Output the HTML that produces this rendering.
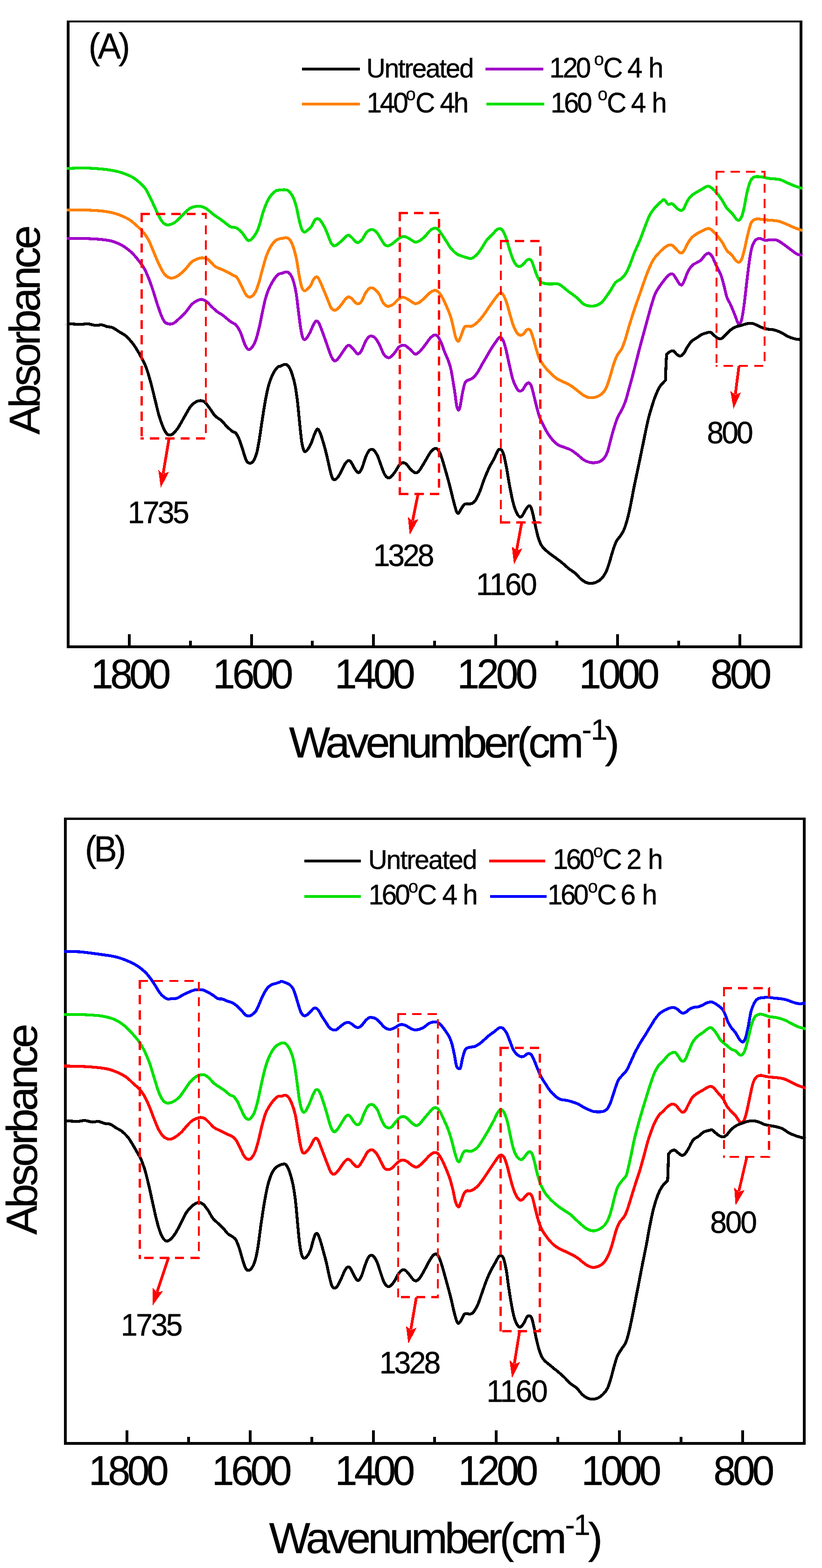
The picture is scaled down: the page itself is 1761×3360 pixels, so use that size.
<!DOCTYPE html>
<html lang="en"><head><meta charset="utf-8"><title>FTIR spectra</title>
<style>
html,body{margin:0;padding:0;background:#fff;}
body{width:1761px;height:3360px;overflow:hidden;}
svg{display:block;}
text{font-family:"Liberation Sans",sans-serif;fill:#000;stroke:#000;stroke-width:0.5px;}
</style></head><body>
<svg width="1761" height="3360" viewBox="0 0 1761 3360">
<rect width="1761" height="3360" fill="#fff"/>
<g shape-rendering="crispEdges">
<rect x="143" y="44" width="6" height="1345" fill="#000"/>
<rect x="1713" y="44" width="6" height="1345" fill="#000"/>
<rect x="143" y="44" width="1576" height="4" fill="#000"/>
<rect x="143" y="1383" width="1576" height="6" fill="#000"/>
<rect x="274" y="1359" width="6" height="24" fill="#000"/>
<rect x="405" y="1373" width="6" height="10" fill="#000"/>
<rect x="536" y="1359" width="6" height="24" fill="#000"/>
<rect x="666" y="1373" width="6" height="10" fill="#000"/>
<rect x="797" y="1359" width="6" height="24" fill="#000"/>
<rect x="928" y="1373" width="6" height="10" fill="#000"/>
<rect x="1059" y="1359" width="6" height="24" fill="#000"/>
<rect x="1190" y="1373" width="6" height="10" fill="#000"/>
<rect x="1320" y="1359" width="6" height="24" fill="#000"/>
<rect x="1451" y="1373" width="6" height="10" fill="#000"/>
<rect x="1582" y="1359" width="6" height="24" fill="#000"/>
</g>
<g shape-rendering="crispEdges">
<rect x="137" y="1752" width="6" height="1344" fill="#000"/>
<rect x="1720" y="1752" width="6" height="1344" fill="#000"/>
<rect x="137" y="1752" width="1589" height="5" fill="#000"/>
<rect x="137" y="3090" width="1589" height="6" fill="#000"/>
<rect x="269" y="3065" width="6" height="25" fill="#000"/>
<rect x="401" y="3079" width="6" height="11" fill="#000"/>
<rect x="533" y="3065" width="6" height="25" fill="#000"/>
<rect x="665" y="3079" width="6" height="11" fill="#000"/>
<rect x="797" y="3065" width="6" height="25" fill="#000"/>
<rect x="928" y="3079" width="6" height="11" fill="#000"/>
<rect x="1060" y="3065" width="6" height="25" fill="#000"/>
<rect x="1192" y="3079" width="6" height="11" fill="#000"/>
<rect x="1324" y="3065" width="6" height="25" fill="#000"/>
<rect x="1456" y="3079" width="6" height="11" fill="#000"/>
<rect x="1588" y="3065" width="6" height="25" fill="#000"/>
</g>
<text transform="translate(0,126.0) scale(1,1.04)" x="189.7" y="0" font-size="74.2" letter-spacing="-4.90">(A)</text>
<text transform="translate(0,1846.4) scale(1,1.04)" x="182.1" y="0" font-size="74.2" letter-spacing="-5.45">(B)</text>
<text transform="translate(0,1475.2) scale(1,1.04)" x="195.0" y="0" font-size="85.6" letter-spacing="-6.45">1800</text>
<text transform="translate(0,1475.2) scale(1,1.04)" x="456.1" y="0" font-size="85.6" letter-spacing="-6.05">1600</text>
<text transform="translate(0,1475.2) scale(1,1.04)" x="717.1" y="0" font-size="85.6" letter-spacing="-5.99">1400</text>
<text transform="translate(0,1475.2) scale(1,1.04)" x="979.6" y="0" font-size="85.6" letter-spacing="-5.99">1200</text>
<text transform="translate(0,1475.2) scale(1,1.04)" x="1240.6" y="0" font-size="85.6" letter-spacing="-5.99">1000</text>
<text transform="translate(0,1475.2) scale(1,1.04)" x="1522.3" y="0" font-size="85.6" letter-spacing="-6.01">800</text>
<text transform="translate(0,3182.2) scale(1,1.04)" x="190.1" y="0" font-size="85.6" letter-spacing="-6.32">1800</text>
<text transform="translate(0,3182.2) scale(1,1.04)" x="453.9" y="0" font-size="85.6" letter-spacing="-6.32">1600</text>
<text transform="translate(0,3182.2) scale(1,1.04)" x="717.7" y="0" font-size="85.6" letter-spacing="-6.32">1400</text>
<text transform="translate(0,3182.2) scale(1,1.04)" x="981.6" y="0" font-size="85.6" letter-spacing="-6.32">1200</text>
<text transform="translate(0,3182.2) scale(1,1.04)" x="1245.4" y="0" font-size="85.6" letter-spacing="-6.32">1000</text>
<text transform="translate(0,3182.2) scale(1,1.04)" x="1528.4" y="0" font-size="85.6" letter-spacing="-6.01">800</text>
<text transform="translate(0,1121.2) scale(1,1.04)" x="273.8" y="0" font-size="64.3" letter-spacing="-3.72">1735</text>
<text transform="translate(0,1213.0) scale(1,1.04)" x="799.7" y="0" font-size="64.3" letter-spacing="-4.09">1328</text>
<text transform="translate(0,1274.8) scale(1,1.04)" x="1020.0" y="0" font-size="64.3" letter-spacing="-2.53">1160</text>
<text transform="translate(0,949.7) scale(1,1.04)" x="1514.6" y="0" font-size="64.3" letter-spacing="-4.11">800</text>
<text transform="translate(0,2861.9) scale(1,1.04)" x="259.0" y="0" font-size="64.3" letter-spacing="-3.49">1735</text>
<text transform="translate(0,2942.7) scale(1,1.04)" x="812.7" y="0" font-size="64.3" letter-spacing="-3.85">1328</text>
<text transform="translate(0,3003.8) scale(1,1.04)" x="1042.3" y="0" font-size="64.3" letter-spacing="-2.23">1160</text>
<text transform="translate(0,2641.5) scale(1,1.04)" x="1521.2" y="0" font-size="64.3" letter-spacing="-3.26">800</text>
<text transform="translate(0,165.7)" x="784.7" y="0" font-size="56.8" letter-spacing="-2.31">Untreated</text>
<text transform="translate(0,1862.3)" x="788.8" y="0" font-size="56.7" letter-spacing="-1.91">Untreated</text>
<text transform="translate(0,1622.5)" x="619.2" y="0" font-size="93.4" letter-spacing="-6.37">Wavenumber(cm<tspan x="1246.6" y="-37.8" font-size="63.5" letter-spacing="0">-</tspan><tspan x="1266.0" y="-37.8" font-size="63.5" letter-spacing="0">1</tspan><tspan x="1296.0" y="0" letter-spacing="0">)</tspan></text>
<text transform="translate(0,3328)" x="576.4" y="0" font-size="93.4" letter-spacing="-5.81">Wavenumber(cm<tspan x="1210.4" y="-39.5" font-size="63.5" letter-spacing="0">-</tspan><tspan x="1229.3" y="-39.5" font-size="63.5" letter-spacing="0">1</tspan><tspan x="1260.1" y="0" letter-spacing="0">)</tspan></text>
<text transform="translate(0,240.8) scale(1,1.04)" aria-label="140°C 4h"><tspan x="785.6" y="0.0" font-size="58.5" letter-spacing="-4.25">140</tspan><tspan x="869.5" y="-24.5" font-size="38.0" letter-spacing="0.00">o</tspan><tspan x="890.0" y="0.0" font-size="58.5" letter-spacing="0.00">C</tspan><tspan x="942.4" y="0.0" font-size="58.5" letter-spacing="-3.47">4h</tspan></text>
<text transform="translate(0,165.7) scale(1,1.04)" aria-label="120 °C 4 h"><tspan x="1177.0" y="0.0" font-size="58.5" letter-spacing="-4.10">120</tspan><tspan x="1272.8" y="-24.5" font-size="38.0" letter-spacing="0.00">o</tspan><tspan x="1292.3" y="0.0" font-size="58.5" letter-spacing="0.00">C</tspan><tspan x="1344.1" y="0.0" font-size="58.5" letter-spacing="0.00">4</tspan><tspan x="1389.0" y="0.0" font-size="58.5" letter-spacing="0.00">h</tspan></text>
<text transform="translate(0,240.7) scale(1,1.04)" aria-label="160 °C 4 h"><tspan x="1179.6" y="0.0" font-size="58.5" letter-spacing="-4.25">160</tspan><tspan x="1280.5" y="-24.5" font-size="38.0" letter-spacing="0.00">o</tspan><tspan x="1300.0" y="0.0" font-size="58.5" letter-spacing="0.00">C</tspan><tspan x="1351.8" y="0.0" font-size="58.5" letter-spacing="0.00">4</tspan><tspan x="1396.3" y="0.0" font-size="58.5" letter-spacing="0.00">h</tspan></text>
<text transform="translate(0,1938.3) scale(1,1.04)" aria-label="160°C 4 h"><tspan x="789.6" y="0.0" font-size="58.5" letter-spacing="-4.25">160</tspan><tspan x="874.8" y="-24.5" font-size="38.0" letter-spacing="0.00">o</tspan><tspan x="894.0" y="0.0" font-size="58.5" letter-spacing="0.00">C</tspan><tspan x="947.4" y="0.0" font-size="58.5" letter-spacing="0.00">4</tspan><tspan x="991.3" y="0.0" font-size="58.5" letter-spacing="0.00">h</tspan></text>
<text transform="translate(0,1862.3) scale(1,1.04)" aria-label="160°C 2 h"><tspan x="1184.6" y="0.0" font-size="58.5" letter-spacing="-4.25">160</tspan><tspan x="1271.1" y="-24.5" font-size="38.0" letter-spacing="0.00">o</tspan><tspan x="1290.6" y="0.0" font-size="58.5" letter-spacing="0.00">C</tspan><tspan x="1342.3" y="0.0" font-size="58.5" letter-spacing="0.00">2</tspan><tspan x="1388.0" y="0.0" font-size="58.5" letter-spacing="0.00">h</tspan></text>
<text transform="translate(0,1938.3) scale(1,1.04)" aria-label="160°C 6 h"><tspan x="1173.0" y="0.0" font-size="58.5" letter-spacing="-4.60">160</tspan><tspan x="1259.5" y="-24.5" font-size="38.0" letter-spacing="0.00">o</tspan><tspan x="1279.0" y="0.0" font-size="58.5" letter-spacing="0.00">C</tspan><tspan x="1329.6" y="0.0" font-size="58.5" letter-spacing="0.00">6</tspan><tspan x="1375.6" y="0.0" font-size="58.5" letter-spacing="0.00">h</tspan></text>
<text transform="translate(85.0,930.9) rotate(-90)" font-size="92.5" letter-spacing="-5.03">Absorbance</text>
<text transform="translate(79.0,2645.8) rotate(-90)" font-size="93.6" letter-spacing="-5.26">Absorbance</text>
<g shape-rendering="crispEdges">
<rect x="647" y="145" width="124" height="6" fill="#000"/>
<rect x="647" y="220" width="124" height="6" fill="#ff8000"/>
<rect x="1040" y="145" width="124" height="6" fill="#a000c8"/>
<rect x="1042" y="220" width="124" height="6" fill="#00e000"/>
<rect x="652" y="1842" width="121" height="6" fill="#000"/>
<rect x="652" y="1918" width="121" height="6" fill="#00e000"/>
<rect x="1048" y="1842" width="120" height="6" fill="#ff0000"/>
<rect x="1050" y="1918" width="121" height="6" fill="#0000ff"/>
</g>
<path d="M143.0,361.1C149.4,360.9 168.9,359.8 181.5,360.0C194.1,360.2 208.6,361.4 218.5,362.2C228.4,363.1 234.0,364.0 240.7,365.2C247.5,366.4 252.5,367.4 259.3,369.6C266.0,371.9 275.3,375.3 281.5,378.5C287.7,381.7 291.4,384.7 296.3,388.9C301.2,393.1 306.8,397.8 311.1,403.7C315.4,409.6 318.5,416.7 322.2,424.1C325.9,431.5 329.6,440.4 333.3,448.1C337.0,455.9 341.0,464.9 344.4,470.4C347.8,475.8 350.6,478.9 353.7,480.7C356.8,482.6 359.6,482.1 363.0,481.5C366.4,480.9 369.8,480.1 374.1,477.0C378.4,474.0 383.3,468.1 388.9,463.0C394.4,457.8 401.2,449.8 407.4,446.3C413.6,442.8 420.4,441.9 425.9,441.9C431.5,441.9 435.2,443.1 440.7,446.3C446.3,449.5 453.7,457.0 459.3,461.1C464.8,465.2 468.5,467.1 474.1,471.1C479.6,475.1 488.3,482.5 492.6,485.2C496.9,487.8 497.5,486.4 500.0,487.0C502.5,487.7 504.3,487.0 507.4,488.9C510.5,490.8 515.1,494.7 518.5,498.5C521.9,502.3 525.3,508.9 527.8,511.7C530.2,514.6 531.2,515.8 533.3,515.6C535.5,515.4 538.0,513.8 540.7,510.7C543.5,507.6 547.5,501.8 550.0,497.2C552.5,492.6 553.1,490.7 555.6,483.0C558.0,475.4 561.4,460.9 564.8,451.3C568.2,441.7 571.9,432.2 575.9,425.4C579.9,418.6 585.2,413.3 588.9,410.3C592.6,407.3 594.4,408.0 598.1,407.4C601.9,406.8 607.7,406.4 611.1,406.7C614.5,407.0 615.7,406.7 618.5,409.3C621.3,411.9 625.0,416.4 627.8,422.2C630.6,428.1 633.0,436.4 635.2,444.4C637.3,452.5 638.9,462.7 640.7,470.4C642.6,478.1 644.4,486.2 646.3,490.7C648.1,495.2 650.0,496.8 651.9,497.4C653.7,498.0 654.9,496.4 657.4,494.4C659.9,492.5 663.9,489.6 666.7,485.9C669.4,482.2 671.9,475.1 674.1,472.2C676.2,469.3 677.8,468.7 679.6,468.5C681.5,468.3 682.7,468.3 685.2,471.1C687.7,473.9 691.7,480.1 694.4,485.2C697.2,490.3 699.4,496.0 701.9,501.9C704.3,507.7 707.0,516.2 709.3,520.4C711.5,524.5 713.4,526.0 715.6,526.7C717.7,527.3 719.3,526.0 722.2,524.1C725.2,522.1 729.9,517.9 733.3,514.8C736.7,511.7 740.1,507.3 742.6,505.6C745.1,503.8 746.0,503.5 748.1,504.4C750.3,505.4 753.1,508.8 755.6,511.1C758.0,513.5 760.8,517.2 763.0,518.5C765.1,519.9 766.4,520.2 768.5,519.3C770.7,518.3 773.1,516.5 775.9,513.0C778.7,509.4 782.4,501.5 785.2,498.1C788.0,494.8 790.1,493.5 792.6,492.6C795.1,491.7 797.5,491.7 800.0,492.6C802.5,493.5 804.6,494.8 807.4,498.1C810.2,501.5 813.9,508.6 816.7,513.0C819.4,517.3 821.6,521.8 824.1,524.1C826.5,526.4 828.7,527.0 831.5,526.7C834.3,526.4 837.3,524.5 840.7,522.2C844.1,519.9 848.5,515.4 851.9,513.0C855.2,510.5 858.3,508.3 861.1,507.4C863.9,506.5 865.7,506.7 868.5,507.4C871.3,508.1 874.7,510.1 877.8,511.9C880.9,513.6 884.6,516.7 887.0,517.8C889.5,518.9 890.1,519.1 892.6,518.5C895.1,517.9 898.5,516.5 901.9,514.1C905.2,511.6 909.6,507.2 913.0,503.7C916.4,500.2 919.1,495.8 922.2,493.3C925.3,490.9 928.7,489.1 931.5,488.9C934.3,488.6 936.4,489.7 938.9,491.9C941.4,494.1 944.1,498.9 946.3,502.0C948.5,505.0 950.0,507.5 951.9,510.4C953.7,513.2 955.2,515.6 957.4,518.9C959.6,522.3 961.4,526.4 964.8,530.5C968.2,534.6 973.5,540.5 977.8,543.7C982.1,546.8 987.0,547.8 990.7,549.3C994.4,550.7 997.5,551.4 1000.0,552.1C1002.5,552.9 1003.4,553.6 1005.6,553.7C1007.7,553.8 1009.9,554.4 1013.0,552.6C1016.0,550.7 1020.7,546.4 1024.1,542.6C1027.5,538.8 1030.2,534.3 1033.3,529.6C1036.4,525.0 1039.2,519.1 1042.6,514.8C1046.0,510.5 1050.3,507.3 1053.7,503.7C1057.1,500.1 1060.3,495.6 1063.0,493.3C1065.6,491.0 1067.5,490.1 1069.6,490.0C1071.8,489.9 1073.6,489.7 1075.9,492.6C1078.2,495.5 1080.9,500.9 1083.3,507.4C1085.8,513.9 1088.3,523.8 1090.7,531.5C1093.2,539.2 1095.7,547.7 1098.1,553.7C1100.6,559.7 1103.1,564.5 1105.6,567.4C1108.0,570.3 1110.5,571.2 1113.0,571.1C1115.4,571.0 1117.9,568.8 1120.4,566.7C1122.8,564.6 1125.6,560.4 1127.8,558.5C1129.9,556.7 1131.5,555.4 1133.3,555.6C1135.2,555.7 1137.0,556.2 1138.9,559.3C1140.7,562.3 1142.3,568.2 1144.4,574.1C1146.6,579.9 1149.4,589.4 1151.9,594.4C1154.3,599.5 1156.2,602.2 1159.3,604.4C1162.3,606.7 1166.4,607.5 1170.4,608.1C1174.4,608.8 1179.3,608.5 1183.3,608.5C1187.3,608.5 1191.0,607.4 1194.4,608.1C1197.8,608.9 1200.3,610.6 1203.7,613.0C1207.1,615.3 1211.1,619.3 1214.8,622.2C1218.5,625.1 1222.2,627.6 1225.9,630.4C1229.6,633.1 1233.3,635.6 1237.0,638.9C1240.7,642.2 1244.8,647.3 1248.1,650.0C1251.5,652.7 1255.3,653.9 1257.4,654.8C1259.5,655.7 1259.1,655.0 1261.0,655.3C1262.9,655.5 1265.4,656.6 1268.5,656.3C1271.6,656.0 1276.1,655.1 1279.5,653.7C1282.9,652.4 1285.7,651.0 1288.8,648.2C1291.9,645.4 1294.9,641.0 1298.0,636.8C1301.1,632.7 1304.0,628.5 1307.4,623.3C1310.8,618.1 1314.8,609.9 1318.5,605.7C1322.2,601.5 1326.1,601.0 1329.5,598.2C1332.9,595.4 1335.7,593.5 1338.8,588.9C1341.9,584.4 1344.6,578.9 1348.0,571.0C1351.4,563.1 1355.4,550.8 1359.1,541.6C1362.9,532.4 1366.6,525.1 1370.4,515.9C1374.1,506.8 1378.1,495.3 1381.5,486.5C1384.9,477.8 1387.7,469.8 1390.7,463.5C1393.8,457.2 1396.6,453.1 1400.0,448.7C1403.4,444.3 1407.9,440.1 1411.0,437.0C1414.1,434.0 1416.4,431.9 1418.4,430.4C1420.4,428.8 1421.1,426.5 1423.2,427.8C1425.4,429.0 1428.8,436.4 1431.4,437.8C1434.0,439.2 1436.6,435.9 1438.8,436.3C1440.9,436.7 1442.2,438.1 1444.3,440.0C1446.5,441.9 1449.3,445.6 1451.7,447.4C1454.2,449.3 1457.0,451.1 1459.1,451.1C1461.3,451.1 1462.5,450.7 1464.7,447.4C1466.9,444.1 1469.3,436.2 1472.1,431.5C1474.9,426.8 1478.0,422.5 1481.4,419.3C1484.8,416.0 1488.8,414.1 1492.5,411.9C1496.2,409.6 1500.2,407.5 1503.6,405.6C1507.0,403.6 1510.4,401.0 1512.9,400.0C1515.3,399.0 1516.2,398.6 1518.4,399.3C1520.6,399.9 1523.0,401.4 1525.8,403.7C1528.6,406.0 1531.7,409.0 1535.1,413.0C1538.5,417.0 1542.5,422.2 1546.2,427.8C1549.9,433.3 1553.6,441.4 1557.3,446.3C1561.0,451.2 1565.3,453.9 1568.4,457.4C1571.5,460.9 1573.5,464.9 1575.8,467.4C1578.2,469.9 1580.3,472.7 1582.5,472.2C1584.6,471.8 1586.8,469.4 1588.8,464.8C1590.8,460.2 1592.5,452.8 1594.3,444.4C1596.2,436.1 1597.7,424.1 1599.9,414.8C1602.0,405.6 1604.8,394.8 1607.3,388.9C1609.8,383.0 1611.9,381.4 1614.7,379.6C1617.5,377.9 1620.6,378.5 1624.0,378.5C1627.4,378.5 1631.4,379.0 1635.1,379.6C1638.8,380.2 1642.2,381.6 1646.2,382.2C1650.2,382.8 1654.8,382.8 1659.1,383.3C1663.5,383.8 1667.5,383.8 1672.1,385.2C1676.7,386.6 1682.0,389.7 1686.9,391.9C1691.9,394.0 1697.1,396.4 1701.7,398.1C1706.4,399.9 1711.8,401.6 1714.7,402.6C1717.6,403.6 1718.3,403.8 1719.0,404.1" fill="none" stroke="#00e000" stroke-width="6.2" stroke-linejoin="round" stroke-linecap="butt" shape-rendering="crispEdges"/>
<path d="M143.0,450.0C149.4,450.0 168.9,449.6 181.5,450.0C194.1,450.4 208.6,451.2 218.5,452.2C228.4,453.2 234.0,454.3 240.7,455.9C247.5,457.5 253.1,459.3 259.3,461.9C265.4,464.4 272.2,467.5 277.8,471.1C283.3,474.7 287.7,478.8 292.6,483.3C297.5,487.8 303.1,492.9 307.4,498.1C311.7,503.4 314.8,507.7 318.5,514.8C322.2,521.9 325.9,532.1 329.6,540.7C333.3,549.4 337.0,559.0 340.7,566.7C344.4,574.4 348.5,582.4 351.9,587.0C355.2,591.7 358.0,593.0 361.1,594.4C364.2,595.9 367.0,596.2 370.4,595.6C373.8,594.9 377.2,593.7 381.5,590.7C385.8,587.8 391.4,582.7 396.3,577.8C401.2,572.8 406.2,565.1 411.1,561.1C416.0,557.1 421.9,555.1 425.9,553.7C429.9,552.3 431.8,552.2 435.2,552.6C438.6,553.0 442.0,553.2 446.3,556.3C450.6,559.4 455.9,567.4 461.1,571.1C466.4,574.8 472.5,576.0 477.8,578.5C483.0,581.0 488.9,584.0 492.6,585.9C496.3,587.9 497.5,588.8 500.0,590.2C502.5,591.6 504.6,591.0 507.4,594.5C510.2,598.0 513.6,605.3 516.7,611.2C519.8,617.2 523.1,625.7 525.9,629.9C528.7,634.2 530.9,635.8 533.3,636.5C535.8,637.2 538.3,636.3 540.7,634.1C543.2,632.0 545.7,629.0 548.1,623.8C550.6,618.6 553.4,609.8 555.6,602.8C557.7,595.7 558.6,590.3 561.1,581.5C563.6,572.6 567.3,558.4 570.4,549.6C573.5,540.9 576.2,534.7 579.6,529.0C583.0,523.3 587.3,518.2 590.7,515.3C594.1,512.4 597.8,512.1 600.0,511.4C602.2,510.7 601.5,511.5 603.7,511.1C605.9,510.8 610.2,509.0 613.0,509.3C615.7,509.6 617.9,509.9 620.4,513.0C622.8,516.0 625.3,520.7 627.8,527.8C630.2,534.9 633.0,545.4 635.2,555.6C637.3,565.7 638.9,579.0 640.7,588.9C642.6,598.8 644.4,609.1 646.3,614.8C648.1,620.5 650.0,622.0 651.9,623.0C653.7,623.9 655.2,622.0 657.4,620.4C659.6,618.7 662.3,616.7 664.8,613.0C667.3,609.3 669.9,601.4 672.2,598.1C674.5,594.9 676.7,593.3 678.5,593.3C680.4,593.3 681.3,594.6 683.3,598.1C685.4,601.7 688.0,608.3 690.7,614.8C693.5,621.3 696.9,629.6 700.0,637.0C703.1,644.4 706.5,654.6 709.3,659.3C712.0,663.9 714.2,664.5 716.7,664.8C719.1,665.1 721.3,663.6 724.1,661.1C726.9,658.6 730.6,653.5 733.3,650.0C736.1,646.5 738.4,642.3 740.7,640.0C743.1,637.7 745.2,636.3 747.4,636.3C749.6,636.3 751.4,638.0 753.7,640.0C756.0,642.0 759.0,646.3 761.1,648.1C763.3,650.0 764.5,651.4 766.7,651.1C768.8,650.8 771.3,650.2 774.1,646.3C776.9,642.4 780.6,632.4 783.3,627.8C786.1,623.1 788.6,620.4 790.7,618.5C792.9,616.7 794.1,616.4 796.3,616.7C798.5,617.0 800.9,617.9 803.7,620.4C806.5,622.8 810.2,626.9 813.0,631.5C815.7,636.1 817.9,644.1 820.4,648.1C822.8,652.2 825.6,654.2 827.8,655.6C829.9,656.9 830.9,656.9 833.3,656.3C835.8,655.7 839.5,654.1 842.6,651.9C845.7,649.6 849.1,644.9 851.9,642.6C854.6,640.2 856.8,638.6 859.3,637.8C861.7,637.0 863.9,637.0 866.7,637.8C869.4,638.6 872.8,640.7 875.9,642.6C879.0,644.4 882.7,647.5 885.2,648.9C887.7,650.2 888.6,650.9 890.7,650.7C892.9,650.6 895.1,650.1 898.1,648.1C901.2,646.2 905.6,642.3 909.3,638.9C913.0,635.5 916.7,630.6 920.4,627.8C924.1,625.0 928.4,622.6 931.5,622.2C934.6,621.8 936.4,623.3 938.9,625.4C941.4,627.6 943.5,630.5 946.3,635.3C949.1,640.1 952.5,647.1 955.6,654.0C958.6,660.9 962.3,669.4 964.8,676.7C967.3,684.0 968.5,690.3 970.4,697.8C972.2,705.2 974.1,716.1 975.9,721.7C977.8,727.3 979.6,731.5 981.5,731.5C983.3,731.5 984.9,726.6 987.0,721.6C989.2,716.7 992.3,705.6 994.4,701.9C996.6,698.1 997.5,699.3 1000.0,698.9C1002.5,698.5 1006.2,700.0 1009.3,699.3C1012.3,698.5 1015.1,697.1 1018.5,694.4C1021.9,691.8 1025.9,687.7 1029.6,683.3C1033.3,679.0 1037.0,673.8 1040.7,668.5C1044.4,663.3 1048.1,657.1 1051.9,651.9C1055.6,646.6 1059.8,641.0 1063.0,637.0C1066.2,633.0 1068.6,628.7 1071.1,627.8C1073.6,626.9 1075.4,628.1 1077.8,631.5C1080.1,634.9 1082.7,641.0 1085.2,648.1C1087.7,655.2 1090.1,665.7 1092.6,674.1C1095.1,682.4 1097.5,691.7 1100.0,698.1C1102.5,704.6 1104.9,709.6 1107.4,713.0C1109.9,716.4 1112.3,718.2 1114.8,718.5C1117.3,718.8 1120.1,716.7 1122.2,714.8C1124.4,713.0 1126.0,709.0 1127.8,707.4C1129.5,705.9 1131.0,705.2 1132.6,705.6C1134.1,705.9 1135.4,705.9 1137.0,709.3C1138.7,712.7 1140.4,718.8 1142.6,725.9C1144.8,733.0 1147.8,744.8 1150.0,751.9C1152.2,758.9 1153.1,763.2 1155.6,768.4C1158.0,773.6 1161.1,778.2 1164.8,783.1C1168.5,788.1 1173.1,793.4 1177.8,798.1C1182.4,802.7 1187.7,807.7 1192.6,811.1C1197.5,814.5 1202.5,816.0 1207.4,818.5C1212.3,821.0 1217.3,822.8 1222.2,825.9C1227.2,829.0 1232.4,833.5 1237.0,837.0C1241.7,840.6 1246.0,844.6 1250.0,847.0C1254.0,849.5 1257.4,851.0 1261.1,851.9C1264.8,852.7 1268.5,852.5 1272.2,851.9C1275.9,851.2 1279.9,850.0 1283.3,848.1C1286.7,846.3 1289.8,844.1 1292.6,840.7C1295.4,837.3 1297.5,833.6 1300.0,827.8C1302.5,822.0 1304.8,813.8 1307.3,805.9C1309.7,798.0 1312.2,787.7 1314.7,780.3C1317.2,772.9 1319.3,766.9 1322.1,761.6C1324.9,756.2 1328.6,753.6 1331.4,748.2C1334.1,742.9 1336.0,738.0 1338.8,729.6C1341.6,721.3 1344.6,709.3 1348.0,698.1C1351.4,687.0 1355.1,675.0 1359.1,663.0C1363.2,650.9 1367.8,638.3 1372.1,625.9C1376.4,613.6 1381.1,599.4 1385.1,588.9C1389.1,578.4 1393.1,569.3 1396.2,563.0C1399.3,556.7 1400.8,554.8 1403.6,551.1C1406.4,547.4 1409.5,544.2 1412.9,540.7C1416.2,537.3 1420.6,533.0 1424.0,530.4C1427.4,527.8 1430.4,525.9 1433.2,525.2C1436.0,524.4 1438.2,524.6 1440.6,525.9C1443.1,527.3 1445.6,530.9 1448.0,533.3C1450.5,535.8 1453.3,539.4 1455.4,540.7C1457.6,542.1 1459.1,542.4 1461.0,541.5C1462.9,540.6 1464.4,538.7 1466.6,535.2C1468.7,531.7 1471.2,524.9 1474.0,520.4C1476.7,515.9 1479.8,511.5 1483.2,508.1C1486.6,504.8 1490.6,502.3 1494.3,500.0C1498.0,497.7 1502.0,496.1 1505.4,494.4C1508.8,492.8 1512.2,490.7 1514.7,490.0C1517.2,489.3 1518.1,489.1 1520.3,490.0C1522.4,490.9 1524.9,493.0 1527.7,495.6C1530.4,498.1 1533.5,501.4 1536.9,505.6C1540.3,509.7 1544.6,515.1 1548.0,520.4C1551.4,525.6 1554.2,532.9 1557.3,537.0C1560.4,541.2 1563.5,541.8 1566.6,545.2C1569.6,548.6 1573.2,554.6 1575.8,557.4C1578.5,560.2 1580.3,562.5 1582.5,562.2C1584.6,561.9 1586.8,559.8 1588.8,555.6C1590.8,551.4 1592.2,545.7 1594.3,537.0C1596.5,528.4 1599.3,513.6 1601.7,503.7C1604.2,493.8 1606.7,483.3 1609.1,477.8C1611.6,472.2 1613.8,471.8 1616.6,470.4C1619.3,469.0 1622.1,469.1 1625.8,469.3C1629.5,469.4 1634.1,470.6 1638.8,471.1C1643.4,471.6 1648.7,471.7 1653.6,472.2C1658.5,472.7 1663.5,472.8 1668.4,474.1C1673.3,475.3 1678.3,477.6 1683.2,479.6C1688.2,481.7 1692.8,484.1 1698.0,486.3C1703.3,488.5 1711.2,491.3 1714.7,492.6C1718.2,493.9 1718.3,493.9 1719.0,494.2" fill="none" stroke="#ff8000" stroke-width="6.2" stroke-linejoin="round" stroke-linecap="butt" shape-rendering="crispEdges"/>
<path d="M143.0,511.1C149.4,511.1 168.9,510.7 181.5,511.1C194.1,511.5 208.6,512.3 218.5,513.3C228.4,514.3 233.3,514.8 240.7,517.0C248.1,519.3 256.2,522.7 263.0,526.7C269.8,530.6 275.9,535.6 281.5,540.7C287.0,545.9 291.7,551.5 296.3,557.4C300.9,563.3 305.6,569.4 309.3,575.9C313.0,582.4 315.4,588.6 318.5,596.3C321.6,604.0 324.7,613.0 327.8,622.2C330.9,631.5 334.0,642.6 337.0,651.9C340.1,661.1 343.5,671.3 346.3,677.8C349.1,684.3 350.9,688.0 353.7,690.7C356.5,693.5 359.9,694.1 363.0,694.4C366.0,694.8 368.5,694.8 372.2,692.6C375.9,690.4 380.9,685.5 385.2,681.5C389.5,677.5 393.8,673.5 398.1,668.5C402.5,663.6 407.1,655.9 411.1,651.9C415.1,647.8 418.8,646.2 422.2,644.4C425.6,642.7 428.1,641.2 431.5,641.5C434.9,641.8 438.9,643.6 442.6,646.3C446.3,649.0 450.0,653.9 453.7,657.4C457.4,660.9 460.8,664.3 464.8,667.4C468.8,670.5 473.1,672.5 477.8,675.9C482.4,679.4 488.9,685.3 492.6,688.1C496.3,691.0 497.8,691.4 500.0,692.8C502.2,694.2 503.1,693.2 505.6,696.3C508.0,699.4 512.0,705.2 514.8,711.1C517.6,717.1 520.1,726.5 522.2,732.0C524.4,737.6 525.9,741.6 527.8,744.4C529.6,747.2 531.2,749.2 533.3,749.0C535.5,748.8 538.3,746.6 540.7,743.2C543.2,739.8 545.7,735.5 548.1,728.5C550.6,721.4 553.4,710.0 555.6,700.9C557.7,691.9 559.0,684.1 561.1,674.1C563.3,664.1 566.0,649.9 568.5,640.7C571.0,631.6 573.1,625.6 575.9,619.0C578.7,612.5 582.1,606.4 585.2,601.4C588.3,596.4 592.0,591.8 594.4,589.3C596.9,586.7 598.1,587.0 600.0,586.3C601.9,585.6 603.4,585.8 605.6,585.2C607.7,584.6 610.5,582.5 613.0,582.6C615.4,582.7 617.9,583.0 620.4,585.9C622.8,588.8 625.5,593.3 627.8,600.0C630.1,606.7 632.2,615.4 634.1,625.9C635.9,636.4 637.3,650.6 638.9,663.0C640.5,675.3 642.2,690.1 643.7,700.0C645.2,709.9 646.7,717.6 648.1,722.2C649.6,726.9 650.9,727.8 652.6,727.8C654.3,727.8 656.5,725.0 658.5,722.2C660.6,719.4 662.5,715.7 664.8,711.1C667.1,706.5 670.1,698.3 672.2,694.4C674.4,690.6 675.9,688.1 677.8,687.8C679.6,687.5 681.2,688.7 683.3,692.6C685.5,696.5 688.0,703.7 690.7,711.1C693.5,718.5 696.9,728.4 700.0,737.0C703.1,745.7 706.5,756.9 709.3,763.0C712.0,769.0 714.2,772.4 716.7,773.3C719.1,774.3 721.3,771.5 724.1,768.5C726.9,765.6 730.2,759.9 733.3,755.6C736.4,751.2 740.1,745.2 742.6,742.6C745.1,740.0 746.0,739.4 748.1,740.0C750.3,740.6 753.1,743.7 755.6,746.3C758.0,748.9 761.0,753.5 763.0,755.6C764.9,757.6 765.6,759.1 767.4,758.5C769.3,757.9 771.4,756.4 774.1,751.9C776.7,747.3 780.6,736.5 783.3,731.5C786.1,726.4 788.6,723.3 790.7,721.5C792.9,719.6 794.1,719.9 796.3,720.4C798.5,720.8 800.9,721.0 803.7,724.1C806.5,727.2 809.9,733.0 813.0,738.9C816.0,744.8 819.4,754.8 822.2,759.3C825.0,763.8 827.5,764.8 829.6,765.9C831.8,767.0 832.7,767.3 835.2,765.9C837.7,764.5 841.4,761.0 844.4,757.4C847.5,753.8 850.9,747.3 853.7,744.4C856.5,741.5 858.6,740.6 861.1,740.0C863.6,739.4 865.7,739.4 868.5,740.7C871.3,742.1 874.7,745.4 877.8,748.1C880.9,750.9 884.7,755.7 887.0,757.4C889.4,759.1 889.7,759.3 891.9,758.5C894.0,757.7 896.8,755.9 900.0,752.6C903.2,749.3 907.4,743.6 911.1,738.9C914.8,734.1 918.8,727.6 922.2,724.1C925.6,720.6 928.7,718.1 931.5,717.8C934.3,717.5 936.4,719.0 938.9,722.2C941.4,725.4 944.1,732.0 946.3,737.0C948.5,742.1 949.4,746.3 951.9,752.6C954.3,758.8 958.6,767.6 961.1,774.6C963.6,781.5 964.5,783.7 966.7,794.4C968.8,805.2 972.1,826.2 974.1,838.9C976.0,851.5 977.2,863.7 978.5,870.4C979.9,877.0 981.0,878.9 982.2,878.9C983.5,878.9 984.5,876.4 985.9,870.4C987.3,864.3 989.1,850.6 990.7,842.6C992.3,834.6 994.0,826.7 995.6,822.2C997.1,817.8 998.0,817.5 1000.0,815.9C1002.0,814.4 1004.9,814.2 1007.4,813.0C1009.9,811.7 1012.0,811.3 1014.8,808.5C1017.6,805.7 1021.0,801.1 1024.1,796.3C1027.2,791.5 1030.6,784.5 1033.3,779.6C1036.1,774.8 1037.7,772.5 1040.7,767.3C1043.8,762.0 1048.1,754.1 1051.9,748.1C1055.6,742.2 1059.8,735.8 1063.0,731.5C1066.2,727.2 1068.6,722.5 1071.1,722.2C1073.6,721.9 1075.7,725.6 1077.8,729.6C1079.8,733.6 1081.2,738.0 1083.3,746.3C1085.5,754.6 1088.3,768.8 1090.7,779.6C1093.2,790.4 1095.7,802.8 1098.1,811.1C1100.6,819.4 1103.1,825.1 1105.6,829.6C1108.0,834.1 1110.5,837.3 1113.0,838.1C1115.4,839.0 1118.1,836.8 1120.4,834.4C1122.7,832.1 1124.6,826.4 1126.7,824.1C1128.7,821.7 1130.7,820.1 1132.6,820.4C1134.4,820.7 1136.1,822.2 1137.8,825.9C1139.4,829.6 1140.7,835.5 1142.6,842.6C1144.4,849.7 1146.7,860.2 1148.9,868.5C1151.0,876.9 1153.2,885.8 1155.6,892.6C1157.9,899.4 1159.9,903.1 1163.0,909.3C1166.0,915.4 1170.4,923.8 1174.1,929.6C1177.8,935.5 1181.5,940.4 1185.2,944.4C1188.9,948.5 1192.0,951.2 1196.3,953.7C1200.6,956.2 1206.5,957.4 1211.1,959.3C1215.7,961.1 1219.8,962.3 1224.1,964.8C1228.4,967.3 1232.7,970.7 1237.0,974.1C1241.4,977.5 1245.7,982.4 1250.0,985.2C1254.3,988.0 1259.0,989.7 1263.0,990.7C1267.0,991.8 1270.4,991.8 1274.1,991.5C1277.8,991.2 1281.8,990.6 1285.2,988.9C1288.6,987.2 1291.7,985.2 1294.4,981.5C1297.2,977.8 1299.4,973.8 1301.9,966.7C1304.3,959.6 1306.8,947.8 1309.3,938.9C1311.7,929.9 1314.2,920.7 1316.7,913.0C1319.1,905.2 1321.3,898.8 1324.1,892.6C1326.9,886.4 1330.6,881.8 1333.3,875.9C1336.1,870.1 1338.0,866.0 1340.7,857.4C1343.5,848.8 1347.5,832.9 1350.0,824.1C1352.5,815.3 1353.0,813.8 1355.4,804.5C1357.9,795.1 1362.2,777.8 1364.7,768.0C1367.2,758.2 1368.5,752.9 1370.4,745.9C1372.2,738.9 1373.1,736.0 1375.8,725.9C1378.6,715.8 1383.5,697.5 1386.9,685.2C1390.3,672.8 1393.4,661.1 1396.2,651.9C1399.0,642.6 1401.1,635.5 1403.6,629.6C1406.1,623.8 1408.2,621.0 1411.0,616.7C1413.8,612.3 1417.2,607.7 1420.3,603.7C1423.3,599.7 1426.7,595.4 1429.5,592.6C1432.3,589.8 1434.8,587.8 1436.9,587.0C1439.1,586.3 1440.6,586.6 1442.5,588.1C1444.3,589.7 1445.9,593.0 1448.0,596.3C1450.2,599.6 1453.3,605.8 1455.4,608.1C1457.6,610.5 1459.1,611.7 1461.0,610.4C1462.9,609.0 1464.4,604.8 1466.6,600.0C1468.7,595.2 1471.2,586.7 1474.0,581.5C1476.7,576.2 1480.1,571.6 1483.2,568.5C1486.3,565.4 1489.4,564.8 1492.5,563.0C1495.6,561.1 1498.7,560.2 1501.7,557.4C1504.8,554.6 1508.2,548.8 1511.0,546.3C1513.8,543.8 1515.9,542.0 1518.4,542.6C1520.9,543.2 1523.0,545.4 1525.8,550.0C1528.6,554.6 1532.0,563.9 1535.1,570.4C1538.2,576.9 1541.6,581.5 1544.3,588.9C1547.1,596.3 1549.6,606.8 1551.7,614.8C1553.9,622.8 1555.1,630.9 1557.3,637.0C1559.5,643.2 1561.9,645.7 1564.7,651.9C1567.5,658.0 1571.4,667.6 1574.0,674.1C1576.6,680.6 1578.6,687.3 1580.3,690.7C1581.9,694.1 1582.5,695.4 1584.0,694.4C1585.4,693.5 1587.0,692.3 1588.8,685.2C1590.5,678.1 1592.5,665.4 1594.3,651.9C1596.2,638.3 1598.0,619.1 1599.9,603.7C1601.7,588.3 1603.6,571.6 1605.4,559.3C1607.3,546.9 1608.8,537.0 1611.0,529.6C1613.2,522.2 1615.6,517.9 1618.4,514.8C1621.2,511.7 1624.3,511.1 1627.7,511.1C1631.1,511.1 1635.1,514.3 1638.8,514.8C1642.5,515.3 1645.6,514.1 1649.9,514.1C1654.2,514.1 1659.8,513.1 1664.7,514.8C1669.6,516.5 1674.6,520.7 1679.5,524.1C1684.5,527.5 1689.7,531.8 1694.3,535.2C1699.0,538.6 1703.9,542.6 1707.3,544.4C1710.7,546.3 1712.8,545.8 1714.7,546.3C1716.7,546.8 1718.3,547.2 1719.0,547.4" fill="none" stroke="#a000c8" stroke-width="6.2" stroke-linejoin="round" stroke-linecap="butt" shape-rendering="crispEdges"/>
<path d="M143.0,693.7C143.5,693.7 141.1,693.5 146.3,693.7C151.5,694.0 167.3,695.2 174.1,695.2C180.9,695.2 182.1,693.4 187.0,693.7C192.0,694.0 198.5,696.6 203.7,697.0C209.0,697.5 214.2,695.8 218.5,696.3C222.8,696.8 225.9,699.1 229.6,700.0C233.3,700.9 236.4,700.0 240.7,701.9C245.1,703.7 250.6,708.0 255.6,711.1C260.5,714.2 265.4,716.0 270.4,720.4C275.3,724.7 281.5,732.4 285.2,737.0C288.9,741.7 289.5,743.1 292.6,748.1C295.7,753.2 300.3,761.1 303.7,767.6C307.1,774.1 309.9,778.9 313.0,787.1C316.0,795.3 319.1,805.6 322.2,816.7C325.3,827.8 328.4,841.4 331.5,853.7C334.6,866.0 337.7,880.2 340.7,890.7C343.8,901.2 347.2,910.2 350.0,916.7C352.8,923.1 355.2,927.0 357.4,929.6C359.6,932.2 360.8,932.2 363.0,932.2C365.1,932.2 367.3,932.2 370.4,929.6C373.5,927.0 377.5,922.5 381.5,916.7C385.5,910.8 390.1,901.9 394.4,894.4C398.8,887.0 403.4,877.7 407.4,872.2C411.4,866.8 414.8,864.1 418.5,861.9C422.2,859.6 426.2,858.5 429.6,858.5C433.0,858.5 435.5,859.0 438.9,861.9C442.3,864.8 446.3,871.0 450.0,875.9C453.7,880.9 457.1,887.3 461.1,891.5C465.1,895.7 470.1,897.5 474.1,901.1C478.1,904.7 481.5,909.3 485.2,913.0C488.9,916.7 493.8,921.3 496.3,923.3C498.8,925.4 498.5,924.5 500.0,925.4C501.5,926.3 503.4,925.7 505.6,928.5C507.7,931.4 510.5,936.5 513.0,942.6C515.4,948.6 517.9,957.5 520.4,964.9C522.8,972.3 525.3,982.2 527.8,986.9C530.2,991.5 532.7,992.4 535.2,992.6C537.7,992.8 540.1,991.9 542.6,988.2C545.1,984.5 547.8,978.2 550.0,970.4C552.2,962.5 553.7,952.2 555.6,941.2C557.4,930.2 559.0,918.2 561.1,904.3C563.3,890.5 566.0,871.6 568.5,858.3C571.0,844.9 573.1,834.0 575.9,824.3C578.7,814.6 582.1,806.3 585.2,800.1C588.3,793.9 592.0,789.6 594.4,787.1C596.9,784.5 598.5,785.4 600.0,784.8C601.5,784.2 601.9,784.0 603.7,783.3C605.6,782.7 608.6,780.4 611.1,780.7C613.6,781.0 616.0,781.7 618.5,785.2C621.0,788.7 623.6,794.8 625.9,801.9C628.3,809.0 630.6,817.3 632.6,827.8C634.6,838.3 636.1,850.6 637.8,864.8C639.4,879.0 641.2,899.4 642.6,913.0C644.0,926.5 645.1,938.0 646.3,946.3C647.5,954.6 648.8,959.4 650.0,963.0C651.2,966.5 652.2,967.8 653.7,967.8C655.2,967.8 657.1,965.9 659.3,963.0C661.4,960.0 664.3,955.2 666.7,950.0C669.0,944.8 671.2,936.5 673.3,931.5C675.5,926.4 677.7,920.6 679.6,919.6C681.6,918.7 683.0,921.2 685.2,925.9C687.3,930.7 690.1,939.8 692.6,948.1C695.1,956.5 697.7,966.4 700.0,975.9C702.3,985.5 704.7,997.5 706.7,1005.6C708.6,1013.6 710.1,1020.4 711.9,1024.1C713.6,1027.8 715.4,1028.1 717.4,1027.8C719.4,1027.5 721.7,1025.3 724.1,1022.2C726.4,1019.1 729.0,1013.9 731.5,1009.3C734.0,1004.6 736.4,998.1 738.9,994.4C741.4,990.7 744.1,987.8 746.3,987.0C748.5,986.3 749.8,987.5 751.9,990.0C753.9,992.5 756.4,998.3 758.5,1001.9C760.7,1005.4 763.0,1009.4 764.8,1011.1C766.7,1012.8 767.8,1013.8 769.6,1012.2C771.5,1010.7 773.6,1007.3 775.9,1001.9C778.2,996.4 780.9,985.7 783.3,979.6C785.8,973.6 788.6,968.3 790.7,965.6C792.9,962.8 794.4,963.0 796.3,963.0C798.1,963.0 799.7,963.1 801.9,965.6C804.0,968.0 806.8,972.3 809.3,977.8C811.7,983.2 814.2,991.7 816.7,998.1C819.1,1004.6 821.6,1012.3 824.1,1016.7C826.5,1021.0 829.3,1023.1 831.5,1024.1C833.6,1025.0 834.6,1024.4 837.0,1022.2C839.5,1020.1 843.2,1015.4 846.3,1011.1C849.4,1006.8 852.8,999.6 855.6,996.3C858.3,993.0 860.5,991.8 863.0,991.5C865.4,991.2 867.6,992.1 870.4,994.4C873.1,996.8 876.5,1002.5 879.6,1005.6C882.7,1008.6 886.4,1011.9 888.9,1013.0C891.4,1014.1 892.6,1013.4 894.4,1012.2C896.3,1011.1 897.5,1009.6 900.0,1006.0C902.5,1002.4 906.2,996.0 909.3,990.8C912.3,985.7 916.0,979.1 918.5,975.1C921.0,971.1 921.9,969.1 924.1,966.8C926.2,964.5 929.3,961.9 931.5,961.1C933.6,960.4 934.9,959.9 937.0,962.2C939.2,964.6 941.7,968.1 944.4,975.3C947.2,982.5 950.6,995.0 953.7,1005.6C956.8,1016.1 960.1,1027.8 963.0,1038.8C965.9,1049.8 968.6,1062.2 971.1,1071.6C973.6,1081.1 975.9,1090.8 977.8,1095.5C979.6,1100.2 980.7,1100.5 982.2,1099.9C983.8,1099.3 985.0,1095.1 987.0,1092.0C989.1,1088.9 992.3,1083.2 994.4,1081.2C996.6,1079.1 998.5,1079.9 1000.0,1079.6C1001.5,1079.4 1001.9,1079.8 1003.7,1079.6C1005.6,1079.5 1008.6,1080.1 1011.1,1078.9C1013.6,1077.7 1015.7,1076.4 1018.5,1072.2C1021.3,1068.0 1024.7,1061.1 1027.8,1053.7C1030.9,1046.3 1033.6,1036.4 1037.0,1027.8C1040.4,1019.1 1044.4,1009.6 1048.1,1001.9C1051.9,994.1 1056.2,987.5 1059.3,981.5C1062.3,975.4 1064.5,968.6 1066.7,965.6C1068.8,962.5 1070.4,962.2 1072.2,963.0C1074.1,963.8 1075.7,964.5 1077.8,970.4C1079.8,976.2 1082.3,987.3 1084.4,998.1C1086.6,1009.0 1088.5,1022.8 1090.7,1035.2C1093.0,1047.5 1095.7,1062.0 1098.1,1072.2C1100.6,1082.4 1103.1,1090.4 1105.6,1096.3C1108.0,1102.2 1110.8,1105.9 1113.0,1107.4C1115.1,1109.0 1116.4,1108.0 1118.5,1105.6C1120.7,1103.1 1123.6,1096.2 1125.9,1092.6C1128.3,1089.0 1130.6,1084.9 1132.6,1084.1C1134.6,1083.3 1136.1,1084.2 1137.8,1087.8C1139.4,1091.4 1140.9,1098.3 1142.6,1105.6C1144.3,1112.8 1146.3,1123.5 1148.1,1131.5C1150.0,1139.5 1151.5,1147.2 1153.7,1153.7C1155.9,1160.2 1157.7,1165.4 1161.1,1170.4C1164.5,1175.3 1169.4,1179.3 1174.1,1183.3C1178.7,1187.3 1184.0,1190.7 1188.9,1194.4C1193.8,1198.1 1198.8,1201.5 1203.7,1205.6C1208.6,1209.6 1213.9,1214.8 1218.5,1218.5C1223.1,1222.2 1227.2,1224.1 1231.5,1227.8C1235.8,1231.5 1240.4,1237.3 1244.4,1240.7C1248.5,1244.1 1251.9,1246.6 1255.6,1248.1C1259.3,1249.7 1263.0,1250.1 1266.7,1250.0C1270.4,1249.9 1274.1,1249.1 1277.8,1247.4C1281.5,1245.7 1285.5,1243.2 1288.9,1239.6C1292.3,1236.1 1295.3,1231.7 1298.0,1226.1C1300.8,1220.5 1303.0,1213.5 1305.4,1205.8C1307.9,1198.2 1310.4,1187.8 1312.9,1180.2C1315.3,1172.7 1317.5,1165.8 1320.3,1160.4C1323.0,1154.9 1326.7,1151.9 1329.5,1147.7C1332.3,1143.4 1334.5,1140.7 1336.9,1134.7C1339.4,1128.7 1342.2,1119.4 1344.3,1111.5C1346.5,1103.5 1347.5,1099.1 1350.0,1087.0C1352.5,1075.0 1355.9,1055.8 1359.3,1039.1C1362.7,1022.3 1366.7,1004.2 1370.4,986.5C1374.1,968.8 1378.3,947.5 1381.4,932.8C1384.4,918.2 1386.3,908.5 1388.8,898.4C1391.2,888.3 1393.7,880.3 1396.2,872.2C1398.7,864.2 1400.8,857.1 1403.6,850.0C1406.4,842.9 1409.8,834.9 1412.9,829.6C1415.9,824.4 1420.0,821.0 1422.1,818.5C1424.3,816.0 1425.2,815.4 1425.8,814.8L1426.6,787.0L1428.0,759.3C1429.2,758.4 1432.7,754.9 1435.1,753.7C1437.5,752.5 1440.0,750.9 1442.5,751.9C1445.0,752.8 1447.4,757.4 1449.9,759.3C1452.4,761.1 1454.8,763.3 1457.3,763.0C1459.8,762.7 1462.2,760.5 1464.7,757.4C1467.2,754.3 1469.3,748.8 1472.1,744.4C1474.9,740.1 1478.0,734.9 1481.4,731.5C1484.8,728.1 1488.8,726.5 1492.5,724.1C1496.2,721.6 1499.9,718.5 1503.6,716.7C1507.3,714.8 1511.6,713.8 1514.7,713.0C1517.8,712.2 1519.6,710.9 1522.1,711.9C1524.6,712.8 1526.7,716.3 1529.5,718.5C1532.3,720.7 1536.0,724.1 1538.8,725.2C1541.6,726.3 1543.4,726.6 1546.2,725.2C1549.0,723.8 1552.4,719.6 1555.4,716.7C1558.5,713.7 1561.3,710.1 1564.7,707.4C1568.1,704.8 1571.8,702.5 1575.8,700.7C1579.8,699.0 1584.5,698.3 1588.8,697.0C1593.1,695.8 1597.7,694.0 1601.7,693.3C1605.8,692.7 1609.1,692.5 1612.9,693.3C1616.6,694.1 1620.3,696.5 1624.0,698.1C1627.7,699.8 1631.4,701.7 1635.1,703.0C1638.8,704.2 1642.5,704.9 1646.2,705.6C1649.9,706.2 1653.0,705.6 1657.3,706.7C1661.6,707.7 1667.2,709.6 1672.1,711.9C1677.0,714.1 1682.0,718.0 1686.9,720.4C1691.9,722.7 1697.1,724.7 1701.7,725.9C1706.4,727.2 1711.8,727.4 1714.7,727.8C1717.6,728.2 1718.3,728.3 1719.0,728.4" fill="none" stroke="#000" stroke-width="6.2" stroke-linejoin="round" stroke-linecap="butt" shape-rendering="crispEdges"/>
<path d="M137.0,2038.9C142.6,2039.0 160.5,2039.0 170.4,2039.6C180.3,2040.2 188.3,2041.6 196.3,2042.6C204.3,2043.6 211.1,2044.5 218.5,2045.6C225.9,2046.6 234.0,2047.5 240.7,2048.9C247.5,2050.2 253.1,2051.7 259.3,2053.7C265.4,2055.7 271.6,2058.2 277.8,2061.1C284.0,2064.0 290.7,2067.4 296.3,2071.1C301.9,2074.8 306.8,2079.1 311.1,2083.3C315.4,2087.5 318.5,2091.4 322.2,2096.3C325.9,2101.2 329.9,2107.7 333.3,2113.0C336.7,2118.2 339.5,2123.8 342.6,2127.8C345.7,2131.8 349.1,2134.9 351.9,2137.0C354.6,2139.2 356.5,2140.2 359.3,2140.7C362.0,2141.2 365.1,2140.3 368.5,2140.0C371.9,2139.7 375.6,2140.3 379.6,2138.9C383.6,2137.5 388.0,2133.8 392.6,2131.5C397.2,2129.1 403.4,2126.5 407.4,2124.8C411.4,2123.1 413.6,2122.2 416.7,2121.5C419.8,2120.8 422.8,2120.7 425.9,2120.7C429.0,2120.7 431.8,2120.5 435.2,2121.5C438.6,2122.5 442.6,2124.7 446.3,2126.7C450.0,2128.6 454.0,2131.1 457.4,2133.3C460.8,2135.6 463.6,2138.8 466.7,2140.0C469.8,2141.2 472.5,2139.9 475.9,2140.7C479.3,2141.6 483.3,2143.8 487.0,2145.2C490.7,2146.5 494.8,2147.2 498.1,2148.9C501.5,2150.6 504.3,2152.9 507.4,2155.5C510.5,2158.2 513.6,2161.6 516.7,2164.8C519.8,2168.0 523.5,2172.7 525.9,2174.8C528.4,2176.9 529.3,2177.2 531.5,2177.2C533.6,2177.3 536.1,2176.8 538.9,2175.1C541.7,2173.3 545.4,2170.7 548.1,2166.7C550.9,2162.6 553.1,2156.5 555.6,2151.0C558.0,2145.5 560.2,2139.3 563.0,2133.8C565.7,2128.4 569.1,2122.2 572.2,2118.2C575.3,2114.3 578.4,2112.0 581.5,2110.2C584.6,2108.4 587.7,2108.5 590.7,2107.5C593.8,2106.5 598.0,2105.0 600.0,2104.3C602.0,2103.5 601.1,2102.7 603.0,2103.0C604.8,2103.2 608.2,2104.4 611.1,2105.6C614.0,2106.7 617.6,2107.8 620.4,2110.0C623.1,2112.2 625.6,2114.6 627.8,2118.5C629.9,2122.4 631.5,2127.8 633.3,2133.3C635.2,2138.9 637.0,2146.0 638.9,2151.9C640.7,2157.7 642.6,2164.5 644.4,2168.5C646.3,2172.5 648.1,2174.7 650.0,2175.9C651.9,2177.2 653.4,2176.9 655.6,2175.9C657.7,2175.0 660.5,2172.7 663.0,2170.4C665.4,2168.1 668.2,2164.0 670.4,2162.2C672.5,2160.5 674.0,2159.6 675.9,2160.0C677.9,2160.4 679.9,2161.9 682.2,2164.8C684.5,2167.8 687.0,2173.5 689.6,2177.8C692.3,2182.1 695.5,2186.7 698.1,2190.7C700.8,2194.8 703.1,2199.2 705.6,2201.9C708.0,2204.5 710.5,2205.9 713.0,2206.7C715.4,2207.5 717.6,2207.9 720.4,2206.7C723.1,2205.4 726.5,2201.6 729.6,2199.3C732.7,2196.9 736.1,2194.0 738.9,2192.6C741.7,2191.2 743.8,2190.4 746.3,2190.7C748.8,2191.0 751.2,2192.9 753.7,2194.4C756.2,2196.0 758.8,2198.8 761.1,2200.0C763.4,2201.2 765.2,2202.2 767.4,2201.9C769.6,2201.5 771.4,2200.6 774.1,2198.1C776.7,2195.7 780.6,2189.9 783.3,2187.0C786.1,2184.1 788.6,2181.9 790.7,2180.7C792.9,2179.6 794.1,2180.1 796.3,2180.4C798.5,2180.6 800.9,2180.7 803.7,2182.2C806.5,2183.8 809.9,2186.7 813.0,2189.6C816.0,2192.6 819.4,2197.5 822.2,2200.0C825.0,2202.5 827.2,2203.9 829.6,2204.8C832.1,2205.7 834.3,2206.0 837.0,2205.6C839.8,2205.1 843.2,2203.4 846.3,2201.9C849.4,2200.3 852.8,2197.3 855.6,2196.3C858.3,2195.2 860.5,2195.2 863.0,2195.6C865.4,2195.9 867.6,2196.8 870.4,2198.1C873.1,2199.5 876.9,2202.3 879.6,2203.7C882.4,2205.1 884.3,2206.2 887.0,2206.7C889.8,2207.1 894.1,2206.6 896.3,2206.3C898.5,2206.0 898.1,2205.6 900.0,2204.8C901.9,2204.1 904.3,2203.7 907.4,2201.8C910.5,2199.9 915.1,2195.3 918.5,2193.4C921.9,2191.4 924.7,2190.6 927.8,2190.1C930.9,2189.7 934.3,2189.7 937.0,2190.7C939.8,2191.7 941.7,2193.4 944.4,2196.3C947.2,2199.2 950.6,2203.6 953.7,2208.0C956.8,2212.4 960.5,2217.7 963.0,2222.7C965.4,2227.7 966.7,2231.2 968.5,2238.0C970.4,2244.8 972.4,2255.4 974.1,2263.4C975.7,2271.3 976.5,2281.4 978.5,2285.7C980.5,2289.9 983.9,2291.7 985.9,2288.9C988.0,2286.0 989.1,2274.7 990.7,2268.5C992.3,2262.3 994.0,2255.6 995.6,2251.9C997.1,2248.1 997.7,2247.5 1000.0,2246.1C1002.3,2244.8 1006.5,2244.3 1009.3,2243.7C1012.0,2243.1 1013.6,2243.8 1016.7,2242.6C1019.8,2241.4 1024.1,2239.0 1027.8,2236.3C1031.5,2233.6 1035.5,2229.6 1038.9,2226.7C1042.3,2223.7 1044.8,2221.2 1048.1,2218.5C1051.5,2215.8 1055.9,2213.0 1059.3,2210.4C1062.7,2207.8 1066.0,2204.4 1068.5,2203.0C1071.0,2201.5 1072.2,2201.4 1074.1,2201.9C1075.9,2202.3 1077.7,2203.4 1079.6,2205.6C1081.6,2207.7 1083.8,2210.5 1085.9,2214.8C1088.1,2219.1 1090.2,2225.6 1092.6,2231.5C1094.9,2237.3 1097.5,2245.4 1100.0,2250.0C1102.5,2254.6 1104.9,2256.9 1107.4,2259.3C1109.9,2261.6 1112.3,2263.3 1114.8,2264.1C1117.3,2264.8 1120.1,2264.5 1122.2,2263.7C1124.4,2262.9 1125.9,2260.3 1127.8,2259.3C1129.6,2258.2 1131.5,2257.1 1133.3,2257.4C1135.2,2257.7 1137.0,2258.6 1138.9,2261.1C1140.7,2263.6 1142.3,2267.3 1144.4,2272.2C1146.6,2277.2 1149.4,2284.9 1151.9,2290.7C1154.3,2296.6 1156.5,2302.2 1159.3,2307.4C1162.0,2312.7 1165.4,2317.4 1168.5,2322.2C1171.6,2327.0 1174.4,2332.0 1177.8,2336.3C1181.2,2340.6 1185.2,2344.9 1188.9,2348.1C1192.6,2351.4 1195.7,2353.9 1200.0,2355.6C1204.3,2357.2 1210.5,2357.2 1214.8,2358.1C1219.1,2359.1 1221.9,2359.8 1225.9,2361.1C1229.9,2362.4 1235.2,2364.2 1238.9,2365.9C1242.6,2367.7 1244.8,2369.6 1248.1,2371.5C1251.5,2373.3 1255.6,2375.4 1259.3,2377.0C1263.0,2378.7 1266.7,2380.5 1270.4,2381.5C1274.1,2382.4 1277.8,2382.6 1281.5,2382.6C1285.2,2382.6 1289.4,2382.4 1292.5,2381.5C1295.5,2380.6 1297.4,2379.9 1299.9,2377.1C1302.4,2374.3 1304.8,2370.3 1307.3,2364.5C1309.8,2358.7 1311.9,2350.3 1314.7,2342.2C1317.5,2334.1 1320.9,2322.4 1324.0,2316.0C1327.0,2309.7 1330.3,2307.7 1333.2,2304.1C1336.2,2300.6 1339.0,2299.1 1341.7,2294.8C1344.5,2290.5 1347.0,2284.6 1349.9,2278.4C1352.8,2272.2 1355.8,2264.8 1359.3,2257.8C1362.7,2250.9 1366.7,2243.2 1370.4,2236.8C1374.1,2230.4 1378.1,2224.7 1381.5,2219.2C1384.9,2213.8 1387.7,2209.1 1390.7,2204.1C1393.8,2199.1 1397.9,2192.5 1400.0,2189.1C1402.1,2185.6 1401.5,2186.1 1403.6,2183.3C1405.7,2180.5 1409.5,2175.3 1412.9,2172.2C1416.2,2169.1 1420.3,2166.9 1424.0,2164.8C1427.7,2162.8 1431.7,2160.9 1435.1,2160.0C1438.5,2159.1 1441.6,2158.8 1444.3,2159.3C1447.1,2159.8 1449.3,2161.2 1451.7,2163.0C1454.2,2164.7 1457.1,2168.3 1459.1,2169.6C1461.2,2171.0 1462.1,2171.3 1464.0,2171.1C1465.8,2170.9 1468.0,2170.0 1470.3,2168.5C1472.5,2167.0 1474.9,2163.9 1477.7,2162.2C1480.4,2160.6 1483.8,2159.3 1486.9,2158.5C1490.0,2157.7 1493.1,2158.2 1496.2,2157.4C1499.3,2156.6 1502.4,2155.1 1505.4,2153.7C1508.5,2152.3 1511.6,2150.0 1514.7,2148.9C1517.8,2147.8 1521.2,2146.9 1524.0,2147.0C1526.7,2147.2 1528.6,2148.5 1531.4,2150.0C1534.1,2151.5 1537.9,2154.1 1540.6,2156.3C1543.4,2158.5 1545.9,2160.0 1548.0,2163.0C1550.2,2165.9 1551.7,2169.8 1553.6,2174.1C1555.4,2178.4 1557.0,2184.3 1559.1,2188.9C1561.3,2193.5 1563.8,2197.8 1566.6,2201.9C1569.3,2205.9 1573.0,2209.0 1575.8,2213.0C1578.6,2217.0 1580.9,2222.7 1583.2,2225.9C1585.6,2229.2 1588.0,2231.9 1589.9,2232.6C1591.7,2233.3 1592.9,2232.7 1594.3,2230.4C1595.8,2228.0 1597.2,2224.2 1598.8,2218.5C1600.3,2212.8 1601.9,2204.9 1603.6,2196.3C1605.3,2187.7 1607.0,2174.7 1609.1,2166.7C1611.3,2158.6 1614.1,2152.6 1616.6,2148.1C1619.0,2143.7 1620.9,2141.7 1624.0,2140.0C1627.0,2138.3 1631.4,2138.3 1635.1,2137.8C1638.8,2137.3 1642.2,2136.9 1646.2,2137.0C1650.2,2137.2 1654.8,2138.4 1659.1,2138.9C1663.5,2139.4 1667.8,2139.4 1672.1,2140.0C1676.4,2140.6 1680.8,2141.4 1685.1,2142.6C1689.4,2143.8 1693.7,2146.0 1698.0,2147.4C1702.4,2148.8 1707.0,2150.3 1711.0,2150.7C1715.0,2151.2 1719.6,2150.2 1722.1,2150.0C1724.6,2149.8 1725.4,2149.8 1726.0,2149.7" fill="none" stroke="#0000ff" stroke-width="6.2" stroke-linejoin="round" stroke-linecap="butt" shape-rendering="crispEdges"/>
<path d="M137.0,2174.1C143.2,2174.1 161.7,2173.7 174.1,2174.1C186.4,2174.4 201.9,2175.4 211.1,2176.3C220.4,2177.2 223.5,2178.0 229.6,2179.6C235.8,2181.2 242.0,2182.8 248.1,2185.9C254.3,2189.0 260.5,2193.0 266.7,2198.1C272.8,2203.3 279.6,2210.5 285.2,2216.7C290.7,2222.8 295.7,2228.7 300.0,2235.2C304.3,2241.7 307.7,2248.5 311.1,2255.6C314.5,2262.7 317.3,2269.1 320.4,2277.8C323.5,2286.4 326.5,2297.5 329.6,2307.4C332.7,2317.3 336.1,2329.3 338.9,2337.0C341.7,2344.8 343.8,2349.5 346.3,2353.7C348.8,2357.9 351.2,2360.6 353.7,2362.2C356.2,2363.9 358.3,2363.9 361.1,2363.7C363.9,2363.5 366.7,2363.1 370.4,2361.1C374.1,2359.1 379.3,2355.9 383.3,2351.9C387.3,2347.8 390.4,2342.6 394.4,2337.0C398.5,2331.5 403.1,2323.6 407.4,2318.5C411.7,2313.5 416.4,2309.3 420.4,2306.7C424.4,2304.1 428.4,2303.5 431.5,2303.0C434.6,2302.5 436.1,2302.5 438.9,2303.7C441.7,2304.9 444.8,2307.3 448.1,2310.4C451.5,2313.5 455.6,2319.0 459.3,2322.2C463.0,2325.4 466.7,2327.2 470.4,2329.6C474.1,2332.1 477.8,2334.3 481.5,2337.0C485.2,2339.8 489.5,2344.3 492.6,2346.3C495.7,2348.3 497.5,2347.3 500.0,2349.3C502.5,2351.3 504.9,2354.2 507.4,2358.3C509.9,2362.3 512.3,2368.2 514.8,2373.4C517.3,2378.6 520.1,2385.4 522.2,2389.4C524.4,2393.3 526.0,2395.5 527.8,2397.1C529.5,2398.6 531.0,2398.8 532.6,2398.7C534.1,2398.6 535.1,2398.7 537.0,2396.5C539.0,2394.2 542.0,2391.1 544.4,2385.1C546.9,2379.2 549.4,2370.5 551.9,2360.7C554.3,2350.9 556.8,2337.3 559.3,2326.2C561.7,2315.1 564.2,2303.4 566.7,2294.1C569.1,2284.8 571.3,2277.8 574.1,2270.7C576.9,2263.6 580.2,2256.6 583.3,2251.6C586.4,2246.6 589.8,2243.2 592.6,2240.7C595.4,2238.2 598.1,2237.6 600.0,2236.7C601.9,2235.7 601.9,2235.3 603.7,2235.2C605.6,2235.1 608.6,2234.4 611.1,2235.9C613.6,2237.5 616.0,2240.2 618.5,2244.4C621.0,2248.6 623.8,2254.3 625.9,2261.1C628.1,2267.9 629.8,2275.6 631.5,2285.2C633.2,2294.8 634.8,2307.4 636.3,2318.5C637.8,2329.6 639.3,2342.6 640.7,2351.9C642.2,2361.1 643.6,2368.8 645.2,2374.1C646.7,2379.3 648.3,2382.4 650.0,2383.3C651.7,2384.3 653.4,2382.7 655.6,2379.6C657.7,2376.5 660.5,2370.4 663.0,2364.8C665.4,2359.3 668.2,2351.0 670.4,2346.3C672.5,2341.5 674.2,2338.1 675.9,2336.3C677.7,2334.4 679.1,2334.1 680.7,2335.2C682.4,2336.2 684.0,2338.3 685.9,2342.6C687.9,2346.9 690.2,2354.0 692.6,2361.1C694.9,2368.2 697.5,2376.9 700.0,2385.2C702.5,2393.5 705.2,2404.8 707.4,2411.1C709.6,2417.4 711.3,2420.6 713.0,2423.0C714.6,2425.3 715.6,2425.9 717.4,2425.2C719.3,2424.4 721.4,2422.1 724.1,2418.5C726.7,2414.9 730.6,2408.0 733.3,2403.7C736.1,2399.4 738.6,2394.9 740.7,2392.6C742.9,2390.2 744.4,2389.3 746.3,2389.6C748.1,2389.9 749.7,2391.8 751.9,2394.4C754.0,2397.1 756.9,2402.9 759.3,2405.6C761.6,2408.2 763.8,2410.4 765.9,2410.4C768.1,2410.4 769.9,2409.4 772.2,2405.6C774.5,2401.7 777.2,2392.6 779.6,2387.0C782.1,2381.5 784.6,2375.6 787.0,2372.2C789.5,2368.8 792.0,2367.1 794.4,2366.7C796.9,2366.2 799.4,2367.5 801.9,2369.6C804.3,2371.8 806.8,2374.9 809.3,2379.6C811.7,2384.4 814.2,2392.8 816.7,2398.1C819.1,2403.5 821.6,2408.8 824.1,2411.9C826.5,2414.9 829.0,2416.2 831.5,2416.7C834.0,2417.2 836.1,2417.0 838.9,2414.8C841.7,2412.7 845.1,2407.1 848.1,2403.7C851.2,2400.3 854.6,2396.3 857.4,2394.4C860.2,2392.6 862.3,2392.3 864.8,2392.6C867.3,2392.9 869.4,2394.1 872.2,2396.3C875.0,2398.5 878.4,2403.0 881.5,2405.6C884.6,2408.1 888.0,2411.2 890.7,2411.9C893.5,2412.5 895.4,2411.5 898.1,2409.3C900.9,2407.0 904.0,2402.2 907.4,2398.2C910.8,2394.2 915.1,2389.1 918.5,2385.2C921.9,2381.4 925.0,2377.0 927.8,2375.1C930.6,2373.3 932.7,2372.8 935.2,2374.0C937.7,2375.1 940.1,2378.2 942.6,2382.0C945.1,2385.9 947.2,2391.2 950.0,2397.2C952.8,2403.3 956.5,2411.1 959.3,2418.2C962.0,2425.4 964.2,2431.9 966.7,2440.3C969.1,2448.8 971.9,2461.3 974.1,2468.9C976.2,2476.6 977.9,2482.9 979.6,2486.2C981.4,2489.5 982.9,2490.3 984.4,2488.9C986.0,2487.5 987.2,2481.5 988.9,2477.9C990.6,2474.3 992.6,2469.4 994.4,2467.4C996.3,2465.4 997.8,2465.9 1000.0,2465.9C1002.2,2465.9 1004.9,2467.6 1007.4,2467.4C1009.9,2467.2 1012.0,2466.5 1014.8,2464.8C1017.6,2463.1 1020.7,2461.4 1024.1,2457.4C1027.5,2453.4 1031.5,2446.6 1035.2,2440.7C1038.9,2434.9 1042.6,2428.7 1046.3,2422.2C1050.0,2415.7 1054.0,2408.3 1057.4,2401.9C1060.8,2395.4 1064.0,2387.3 1066.7,2383.3C1069.3,2379.3 1071.2,2377.8 1073.3,2377.8C1075.5,2377.8 1077.3,2379.0 1079.6,2383.3C1081.9,2387.7 1084.8,2395.4 1087.0,2403.7C1089.3,2412.0 1091.3,2424.1 1093.3,2433.3C1095.4,2442.6 1097.2,2452.2 1099.3,2459.3C1101.3,2466.3 1103.5,2471.7 1105.6,2475.7C1107.7,2479.6 1109.8,2481.6 1111.9,2483.1C1113.9,2484.6 1115.7,2485.4 1117.8,2484.6C1119.8,2483.8 1122.0,2480.8 1124.1,2478.4C1126.2,2476.0 1128.4,2472.2 1130.4,2470.4C1132.3,2468.6 1134.2,2467.1 1135.9,2467.8C1137.7,2468.5 1139.2,2471.0 1140.7,2474.7C1142.3,2478.4 1143.3,2482.9 1145.2,2490.2C1147.0,2497.5 1149.5,2510.1 1151.9,2518.5C1154.2,2526.9 1156.5,2534.3 1159.3,2540.7C1162.0,2547.2 1164.8,2552.2 1168.5,2557.4C1172.2,2562.7 1176.9,2567.6 1181.5,2572.2C1186.1,2576.9 1191.4,2581.4 1196.3,2585.2C1201.2,2589.0 1206.8,2592.3 1211.1,2595.2C1215.4,2598.1 1218.5,2599.6 1222.2,2602.6C1225.9,2605.6 1229.6,2609.5 1233.3,2613.0C1237.0,2616.4 1240.7,2620.1 1244.4,2623.3C1248.1,2626.5 1251.9,2629.9 1255.6,2632.2C1259.3,2634.5 1263.3,2636.2 1266.7,2637.0C1270.1,2637.8 1272.5,2637.8 1275.9,2637.0C1279.3,2636.2 1283.6,2634.4 1287.0,2632.2C1290.4,2630.1 1293.5,2627.6 1296.3,2624.1C1299.1,2620.6 1301.4,2616.7 1303.7,2611.1C1306.0,2605.6 1308.2,2598.5 1310.4,2590.7C1312.5,2583.0 1314.6,2572.5 1316.7,2564.8C1318.8,2557.1 1320.5,2550.0 1323.0,2544.4C1325.4,2538.9 1328.5,2535.5 1331.5,2531.5C1334.4,2527.5 1338.6,2524.0 1340.7,2520.4C1342.9,2516.7 1342.5,2516.9 1344.3,2509.6C1346.2,2502.3 1349.1,2488.8 1351.7,2476.8C1354.4,2464.7 1356.6,2451.2 1360.0,2437.1C1363.4,2423.1 1368.2,2406.2 1372.1,2392.6C1376.0,2379.0 1379.8,2366.7 1383.2,2355.6C1386.6,2344.4 1389.4,2335.2 1392.5,2325.9C1395.6,2316.7 1398.7,2307.1 1401.7,2300.0C1404.8,2292.9 1407.9,2287.7 1411.0,2283.3C1414.1,2279.0 1416.9,2277.8 1420.3,2274.1C1423.7,2270.4 1428.0,2264.2 1431.4,2261.1C1434.8,2258.0 1438.0,2256.5 1440.6,2255.6C1443.2,2254.6 1444.9,2254.3 1446.9,2255.6C1449.0,2256.8 1450.8,2260.2 1452.9,2263.0C1454.9,2265.7 1457.3,2270.4 1459.1,2272.2C1461.0,2274.1 1462.3,2274.7 1464.0,2274.1C1465.6,2273.5 1467.2,2272.2 1469.1,2268.5C1471.1,2264.8 1473.2,2258.0 1475.8,2251.9C1478.5,2245.7 1481.7,2236.9 1485.1,2231.5C1488.5,2226.0 1492.8,2222.3 1496.2,2219.3C1499.6,2216.2 1502.4,2215.2 1505.4,2213.0C1508.5,2210.7 1511.9,2207.4 1514.7,2205.6C1517.5,2203.7 1520.0,2201.9 1522.1,2201.9C1524.3,2201.9 1525.5,2203.4 1527.7,2205.6C1529.8,2207.7 1532.3,2210.8 1535.1,2214.8C1537.9,2218.8 1540.9,2225.6 1544.3,2229.6C1547.7,2233.6 1551.7,2235.8 1555.4,2238.9C1559.1,2242.0 1563.2,2246.0 1566.6,2248.1C1570.0,2250.3 1573.0,2250.0 1575.8,2251.9C1578.6,2253.7 1581.4,2257.7 1583.2,2259.3C1585.1,2260.8 1585.4,2261.4 1586.9,2261.1C1588.5,2260.8 1590.6,2260.2 1592.5,2257.4C1594.3,2254.6 1596.2,2250.3 1598.0,2244.4C1599.9,2238.6 1601.4,2230.9 1603.6,2222.2C1605.8,2213.6 1608.5,2200.0 1611.0,2192.6C1613.5,2185.2 1615.6,2181.0 1618.4,2177.8C1621.2,2174.6 1624.6,2173.8 1627.7,2173.3C1630.8,2172.8 1633.5,2174.0 1636.9,2174.8C1640.3,2175.7 1643.7,2177.6 1648.0,2178.5C1652.4,2179.4 1657.6,2179.3 1662.9,2180.4C1668.1,2181.5 1674.3,2183.1 1679.5,2185.2C1684.8,2187.2 1689.4,2190.1 1694.3,2192.6C1699.3,2195.1 1704.5,2198.1 1709.1,2200.0C1713.8,2201.9 1719.3,2202.9 1722.1,2203.7C1724.9,2204.5 1725.4,2204.6 1726.0,2204.8" fill="none" stroke="#00e000" stroke-width="6.2" stroke-linejoin="round" stroke-linecap="butt" shape-rendering="crispEdges"/>
<path d="M137.0,2284.4C143.2,2284.6 161.7,2284.6 174.1,2285.2C186.4,2285.7 201.2,2286.7 211.1,2287.8C221.0,2288.8 226.5,2289.8 233.3,2291.5C240.1,2293.2 245.7,2295.4 251.9,2298.1C258.0,2300.9 264.8,2304.3 270.4,2308.1C275.9,2312.0 280.2,2317.0 285.2,2321.5C290.1,2326.0 295.7,2330.1 300.0,2335.2C304.3,2340.2 307.7,2345.7 311.1,2351.9C314.5,2358.0 317.3,2364.8 320.4,2372.2C323.5,2379.6 326.5,2388.6 329.6,2396.3C332.7,2404.0 335.8,2412.3 338.9,2418.5C342.0,2424.7 345.1,2429.8 348.1,2433.3C351.2,2436.9 354.3,2438.8 357.4,2440.0C360.5,2441.2 363.6,2441.4 366.7,2440.7C369.8,2440.1 372.2,2438.8 375.9,2436.3C379.6,2433.8 384.9,2429.8 388.9,2425.9C392.9,2422.0 396.3,2417.0 400.0,2413.0C403.7,2409.0 407.4,2404.6 411.1,2401.9C414.8,2399.1 419.1,2397.5 422.2,2396.3C425.3,2395.1 426.9,2394.3 429.6,2394.4C432.4,2394.6 435.8,2395.2 438.9,2397.0C442.0,2398.9 444.8,2402.3 448.1,2405.6C451.5,2408.8 455.6,2413.9 459.3,2416.7C463.0,2419.4 466.0,2420.1 470.4,2422.2C474.7,2424.4 480.2,2427.2 485.2,2429.6C490.1,2432.1 496.3,2434.3 500.0,2437.0C503.7,2439.7 504.9,2442.0 507.4,2445.9C509.9,2449.8 512.3,2455.4 514.8,2460.5C517.3,2465.5 520.1,2472.2 522.2,2475.9C524.4,2479.6 525.9,2481.2 527.8,2482.6C529.6,2484.0 531.5,2484.7 533.3,2484.5C535.2,2484.3 536.7,2483.9 538.9,2481.3C541.0,2478.7 543.8,2475.2 546.3,2468.9C548.8,2462.7 551.2,2453.3 553.7,2443.9C556.2,2434.5 558.6,2422.1 561.1,2412.6C563.6,2403.2 566.0,2393.7 568.5,2387.0C571.0,2380.2 573.1,2377.0 575.9,2372.3C578.7,2367.6 582.1,2362.5 585.2,2358.8C588.3,2355.1 592.0,2351.7 594.4,2350.1C596.9,2348.4 598.5,2349.1 600.0,2348.9C601.5,2348.7 601.9,2349.2 603.7,2348.9C605.6,2348.6 608.6,2346.5 611.1,2347.0C613.6,2347.5 616.0,2348.6 618.5,2351.9C621.0,2355.1 623.6,2360.5 625.9,2366.7C628.3,2372.8 630.6,2380.2 632.6,2388.9C634.6,2397.5 636.1,2408.6 637.8,2418.5C639.4,2428.4 641.0,2440.1 642.6,2448.1C644.1,2456.2 645.5,2462.8 647.0,2466.7C648.6,2470.5 649.8,2471.4 651.9,2471.1C653.9,2470.8 656.8,2467.7 659.3,2464.8C661.7,2461.9 664.5,2457.4 666.7,2453.7C668.8,2450.0 670.5,2445.1 672.2,2442.6C674.0,2440.1 675.4,2438.6 677.0,2438.9C678.7,2439.2 680.2,2440.7 682.2,2444.4C684.2,2448.2 686.5,2455.4 688.9,2461.5C691.2,2467.6 694.0,2474.9 696.3,2481.0C698.6,2487.1 701.1,2493.4 703.0,2498.1C704.8,2502.8 705.7,2506.3 707.4,2509.3C709.1,2512.2 711.1,2515.0 713.0,2515.9C714.8,2516.9 716.2,2516.5 718.5,2514.8C720.8,2513.1 723.6,2509.6 726.7,2505.6C729.8,2501.5 734.1,2494.3 737.0,2490.7C740.0,2487.2 742.3,2484.8 744.4,2484.1C746.6,2483.3 747.8,2484.6 750.0,2486.3C752.2,2488.0 755.1,2492.2 757.4,2494.4C759.7,2496.7 761.7,2499.4 763.7,2500.0C765.7,2500.6 767.3,2500.6 769.6,2498.1C772.0,2495.7 774.9,2490.0 777.8,2485.2C780.7,2480.4 784.3,2472.8 787.0,2469.3C789.8,2465.7 792.2,2464.7 794.4,2464.1C796.7,2463.5 798.5,2463.9 800.7,2465.6C803.0,2467.2 805.5,2469.9 808.1,2474.1C810.8,2478.3 814.0,2485.8 816.7,2490.7C819.3,2495.7 821.6,2501.1 824.1,2503.7C826.5,2506.3 829.0,2506.3 831.5,2506.3C834.0,2506.3 836.1,2505.7 838.9,2503.7C841.7,2501.7 845.1,2497.2 848.1,2494.4C851.2,2491.7 854.6,2488.5 857.4,2487.0C860.2,2485.6 862.3,2485.6 864.8,2485.9C867.3,2486.2 869.4,2487.2 872.2,2488.9C875.0,2490.6 878.4,2494.3 881.5,2496.3C884.6,2498.3 888.0,2500.8 890.7,2501.1C893.5,2501.4 895.4,2500.0 898.1,2498.1C900.9,2496.3 904.0,2493.4 907.4,2490.0C910.8,2486.6 915.1,2481.1 918.5,2477.8C921.9,2474.6 925.2,2471.8 927.8,2470.5C930.4,2469.2 932.2,2469.5 934.1,2469.9C935.9,2470.3 936.7,2470.1 938.9,2472.9C941.1,2475.6 944.6,2481.0 947.4,2486.3C950.2,2491.6 952.8,2498.1 955.6,2504.6C958.3,2511.2 961.2,2518.2 963.7,2525.7C966.2,2533.3 968.3,2541.7 970.4,2550.0C972.4,2558.2 974.0,2569.3 975.9,2575.4C977.9,2581.5 980.4,2586.1 982.2,2586.4C984.1,2586.7 985.2,2581.5 987.0,2577.0C988.9,2572.5 991.3,2563.5 993.3,2559.3C995.4,2555.1 996.9,2553.1 999.3,2551.9C1001.6,2550.6 1004.7,2552.5 1007.4,2551.9C1010.1,2551.2 1012.5,2550.3 1015.6,2548.1C1018.6,2546.0 1022.3,2542.9 1025.9,2538.9C1029.5,2534.9 1033.3,2529.3 1037.0,2524.1C1040.7,2518.8 1044.4,2513.0 1048.1,2507.4C1051.9,2501.9 1055.9,2495.7 1059.3,2490.7C1062.7,2485.8 1066.0,2480.4 1068.5,2477.8C1071.0,2475.2 1072.2,2474.9 1074.1,2475.2C1075.9,2475.5 1077.7,2476.1 1079.6,2479.6C1081.6,2483.1 1083.8,2489.2 1085.9,2496.3C1088.1,2503.4 1090.2,2513.6 1092.6,2522.2C1094.9,2530.9 1097.5,2541.0 1100.0,2548.1C1102.5,2555.2 1105.1,2560.9 1107.4,2564.8C1109.8,2568.7 1112.1,2570.6 1114.1,2571.5C1116.0,2572.4 1117.3,2571.8 1119.3,2570.4C1121.2,2569.0 1123.9,2565.0 1125.9,2563.0C1128.0,2560.9 1129.6,2558.8 1131.5,2558.1C1133.3,2557.5 1135.4,2557.5 1137.0,2559.3C1138.7,2561.0 1139.8,2563.0 1141.5,2568.5C1143.2,2574.1 1145.4,2584.6 1147.4,2592.6C1149.4,2600.6 1151.4,2609.6 1153.7,2616.7C1156.0,2623.8 1158.0,2629.3 1161.1,2635.2C1164.2,2641.0 1168.2,2646.6 1172.2,2651.9C1176.2,2657.1 1180.6,2662.5 1185.2,2666.7C1189.8,2670.8 1195.1,2673.9 1200.0,2676.7C1204.9,2679.4 1209.9,2681.0 1214.8,2683.3C1219.8,2685.7 1225.3,2688.3 1229.6,2690.7C1234.0,2693.2 1237.0,2695.4 1240.7,2698.1C1244.4,2700.9 1248.1,2704.8 1251.9,2707.4C1255.6,2710.1 1259.6,2712.7 1263.0,2714.1C1266.4,2715.5 1269.1,2716.0 1272.2,2715.9C1275.3,2715.9 1278.2,2715.1 1281.5,2713.7C1284.8,2712.3 1288.8,2710.3 1291.9,2707.4C1294.9,2704.5 1297.4,2700.9 1300.0,2696.3C1302.6,2691.7 1305.1,2686.1 1307.4,2679.6C1309.8,2673.1 1311.9,2664.8 1314.1,2657.4C1316.2,2650.0 1318.1,2641.7 1320.4,2635.2C1322.7,2628.7 1325.0,2623.1 1327.8,2618.5C1330.6,2613.9 1334.3,2612.0 1337.0,2607.4C1339.8,2602.8 1341.7,2598.5 1344.4,2590.7C1347.2,2583.0 1350.6,2571.0 1353.7,2561.1C1356.8,2551.2 1360.2,2540.1 1363.0,2531.5C1365.7,2522.9 1367.5,2518.7 1370.3,2509.6C1373.0,2500.5 1377.0,2485.9 1379.5,2476.9C1382.0,2467.9 1383.3,2462.1 1385.2,2455.4C1387.0,2448.8 1387.9,2445.0 1390.6,2437.0C1393.4,2429.0 1398.3,2415.1 1401.7,2407.4C1405.1,2399.7 1407.9,2395.1 1411.0,2390.7C1414.1,2386.4 1416.9,2384.9 1420.3,2381.5C1423.7,2378.1 1428.0,2373.0 1431.4,2370.4C1434.8,2367.8 1437.9,2366.2 1440.6,2365.9C1443.4,2365.6 1445.6,2366.5 1448.0,2368.5C1450.5,2370.5 1453.2,2375.3 1455.4,2377.8C1457.7,2380.2 1459.7,2382.8 1461.7,2383.3C1463.8,2383.8 1465.6,2383.2 1467.7,2380.7C1469.7,2378.3 1471.4,2373.3 1474.0,2368.5C1476.6,2363.7 1479.8,2356.2 1483.2,2351.9C1486.6,2347.5 1490.6,2345.2 1494.3,2342.6C1498.0,2340.0 1501.7,2338.5 1505.4,2336.3C1509.1,2334.1 1513.6,2331.0 1516.6,2329.6C1519.5,2328.2 1521.1,2327.5 1523.2,2327.8C1525.4,2328.1 1526.9,2329.0 1529.5,2331.5C1532.1,2334.0 1535.4,2338.6 1538.8,2342.6C1542.2,2346.6 1546.8,2350.9 1549.9,2355.6C1553.0,2360.2 1554.5,2366.0 1557.3,2370.4C1560.1,2374.7 1563.5,2378.1 1566.6,2381.5C1569.6,2384.9 1573.0,2387.3 1575.8,2390.7C1578.6,2394.1 1581.1,2399.4 1583.2,2401.9C1585.4,2404.3 1586.9,2405.9 1588.8,2405.6C1590.6,2405.2 1592.5,2404.0 1594.3,2400.0C1596.2,2396.0 1598.0,2388.9 1599.9,2381.5C1601.7,2374.1 1603.3,2365.4 1605.4,2355.6C1607.6,2345.7 1610.4,2330.1 1612.9,2322.2C1615.3,2314.3 1617.5,2311.1 1620.3,2308.1C1623.0,2305.2 1626.4,2304.8 1629.5,2304.4C1632.6,2304.1 1635.4,2305.7 1638.8,2306.3C1642.2,2306.9 1645.6,2307.7 1649.9,2308.1C1654.2,2308.6 1659.8,2308.6 1664.7,2309.3C1669.6,2309.9 1674.6,2310.3 1679.5,2311.9C1684.5,2313.4 1689.4,2316.2 1694.3,2318.5C1699.3,2320.9 1704.5,2324.0 1709.1,2325.9C1713.8,2327.9 1719.3,2329.4 1722.1,2330.4C1724.9,2331.3 1725.4,2331.5 1726.0,2331.7" fill="none" stroke="#ff0000" stroke-width="6.2" stroke-linejoin="round" stroke-linecap="butt" shape-rendering="crispEdges"/>
<path d="M137.0,2401.9C137.9,2401.9 137.6,2401.7 142.6,2401.9C147.5,2402.0 160.2,2403.1 166.7,2403.0C173.1,2402.8 176.2,2400.9 181.5,2401.1C186.7,2401.4 193.2,2404.1 198.1,2404.4C203.1,2404.8 206.8,2402.5 211.1,2403.0C215.4,2403.5 219.8,2406.4 224.1,2407.4C228.4,2408.5 233.0,2407.7 237.0,2409.3C241.0,2410.8 244.1,2414.2 248.1,2416.7C252.2,2419.1 256.8,2420.7 261.1,2424.1C265.4,2427.5 270.7,2433.0 274.1,2437.0C277.5,2441.0 278.4,2443.1 281.5,2448.1C284.6,2453.2 289.2,2461.1 292.6,2467.1C296.0,2473.0 299.4,2478.5 301.9,2483.7C304.3,2488.9 305.9,2494.1 307.4,2498.3C309.0,2502.6 309.3,2502.5 311.1,2509.3C313.0,2516.0 316.0,2528.4 318.5,2538.9C321.0,2549.4 323.5,2561.1 325.9,2572.2C328.4,2583.3 330.9,2595.4 333.3,2605.6C335.8,2615.7 338.4,2625.9 340.7,2633.3C343.1,2640.7 345.2,2645.9 347.4,2650.0C349.6,2654.1 351.7,2656.6 353.7,2658.1C355.7,2659.7 357.1,2659.9 359.3,2659.3C361.4,2658.6 363.9,2657.2 366.7,2654.4C369.4,2651.7 372.5,2648.0 375.9,2642.6C379.3,2637.2 383.3,2629.3 387.0,2622.2C390.7,2615.1 394.4,2606.0 398.1,2600.0C401.9,2594.0 405.7,2589.8 409.3,2586.3C412.8,2582.8 416.2,2580.4 419.3,2578.9C422.3,2577.3 424.9,2576.6 427.8,2577.0C430.6,2577.5 433.2,2578.6 436.3,2581.5C439.4,2584.4 443.1,2589.7 446.3,2594.4C449.5,2599.2 452.2,2605.6 455.6,2610.0C459.0,2614.4 463.0,2617.5 466.7,2621.1C470.4,2624.7 474.1,2627.6 477.8,2631.5C481.5,2635.4 485.5,2641.4 488.9,2644.4C492.3,2647.5 495.4,2647.8 498.1,2650.0C500.9,2652.2 503.1,2653.1 505.6,2657.4C508.0,2661.7 510.5,2668.4 513.0,2675.8C515.4,2683.1 518.2,2694.7 520.4,2701.6C522.5,2708.5 524.1,2713.8 525.9,2717.2C527.8,2720.7 529.3,2722.2 531.5,2722.3C533.6,2722.4 536.4,2721.2 538.9,2717.8C541.4,2714.4 544.0,2709.4 546.3,2701.9C548.6,2694.3 550.6,2684.5 552.6,2672.2C554.6,2660.0 556.5,2642.7 558.5,2628.4C560.6,2614.1 562.5,2600.2 564.8,2586.5C567.1,2572.8 569.8,2557.2 572.2,2546.2C574.7,2535.2 576.9,2527.7 579.6,2520.6C582.4,2513.5 585.8,2507.7 588.9,2503.8C592.0,2499.9 595.1,2499.0 598.1,2497.4C601.2,2495.9 604.9,2494.6 607.4,2494.4C609.9,2494.3 610.8,2493.5 613.0,2496.3C615.1,2499.1 617.9,2504.0 620.4,2511.1C622.8,2518.2 625.6,2528.1 627.8,2538.9C629.9,2549.7 631.7,2561.7 633.3,2575.9C635.0,2590.1 636.4,2609.3 637.8,2624.1C639.2,2638.9 640.4,2654.0 641.9,2664.8C643.3,2675.6 644.8,2683.6 646.3,2688.9C647.8,2694.1 649.3,2695.7 651.1,2696.3C653.0,2696.9 655.1,2695.4 657.4,2692.6C659.7,2689.8 662.5,2685.5 664.8,2679.6C667.1,2673.8 669.3,2663.3 671.1,2657.4C673.0,2651.5 674.3,2646.6 675.9,2644.4C677.5,2642.3 679.1,2642.3 680.7,2644.4C682.4,2646.6 683.8,2650.9 685.9,2657.4C688.0,2663.9 691.0,2674.7 693.3,2683.3C695.7,2692.0 698.0,2700.6 700.0,2709.3C702.0,2717.9 703.7,2727.5 705.6,2735.2C707.4,2742.9 709.3,2751.4 711.1,2755.6C713.0,2759.8 714.7,2760.4 716.7,2760.4C718.6,2760.4 720.5,2759.1 723.0,2755.6C725.4,2752.0 728.8,2744.4 731.5,2738.9C734.1,2733.3 736.6,2726.2 738.9,2722.2C741.2,2718.2 743.1,2715.4 745.2,2714.8C747.2,2714.2 749.1,2715.9 751.1,2718.5C753.1,2721.2 755.3,2726.9 757.4,2730.7C759.5,2734.6 761.9,2739.8 763.7,2741.9C765.6,2744.0 766.7,2744.8 768.5,2743.3C770.4,2741.9 772.7,2738.4 774.8,2733.3C777.0,2728.3 779.3,2719.1 781.5,2713.0C783.7,2706.8 786.0,2700.1 788.1,2696.3C790.3,2692.5 792.3,2690.6 794.4,2690.0C796.5,2689.4 798.5,2690.0 800.7,2692.6C803.0,2695.2 805.7,2699.7 808.1,2705.6C810.6,2711.4 813.1,2720.7 815.6,2727.8C818.0,2734.9 820.5,2743.3 823.0,2748.1C825.4,2753.0 828.1,2755.4 830.4,2756.7C832.6,2757.9 834.0,2757.3 836.3,2755.6C838.6,2753.8 841.5,2750.6 844.4,2746.3C847.3,2742.0 850.7,2733.8 853.7,2729.6C856.7,2725.4 859.8,2722.3 862.2,2721.1C864.7,2719.9 866.0,2720.5 868.5,2722.2C871.0,2724.0 874.1,2728.1 877.0,2731.5C879.9,2734.9 883.3,2740.4 885.9,2742.6C888.5,2744.8 890.2,2745.3 892.6,2744.4C894.9,2743.6 897.2,2741.5 900.0,2737.7C902.8,2733.9 906.2,2727.4 909.3,2721.8C912.3,2716.3 915.6,2709.5 918.5,2704.4C921.4,2699.4 924.2,2694.4 926.7,2691.5C929.1,2688.6 931.3,2687.3 933.3,2687.2C935.4,2687.2 937.0,2688.3 938.9,2691.2C940.7,2694.0 942.8,2699.7 944.4,2704.3C946.1,2708.9 946.7,2711.3 948.9,2718.8C951.0,2726.4 954.6,2739.2 957.4,2749.6C960.2,2760.0 963.5,2771.4 965.9,2781.3C968.4,2791.1 970.2,2800.6 972.2,2808.6C974.2,2816.6 976.1,2824.8 977.8,2829.3C979.4,2833.9 980.5,2836.0 982.2,2836.0C984.0,2835.9 986.1,2832.2 988.1,2829.0C990.2,2825.8 992.5,2819.1 994.4,2816.7C996.4,2814.3 997.8,2814.9 1000.0,2814.8C1002.2,2814.7 1004.9,2816.5 1007.4,2815.9C1009.9,2815.3 1012.0,2814.7 1014.8,2811.1C1017.6,2807.5 1021.0,2801.5 1024.1,2794.4C1027.2,2787.3 1030.2,2777.2 1033.3,2768.5C1036.4,2759.9 1039.5,2750.3 1042.6,2742.6C1045.7,2734.9 1048.8,2728.4 1051.9,2722.2C1054.9,2716.0 1058.3,2710.5 1061.1,2705.6C1063.9,2700.6 1066.5,2695.1 1068.5,2692.6C1070.6,2690.1 1071.7,2690.1 1073.3,2690.7C1075.0,2691.4 1076.7,2691.4 1078.5,2696.3C1080.4,2701.2 1082.6,2710.2 1084.4,2720.4C1086.3,2730.6 1087.8,2745.1 1089.6,2757.4C1091.5,2769.8 1093.5,2783.3 1095.6,2794.4C1097.6,2805.6 1099.6,2816.4 1101.9,2824.1C1104.1,2831.8 1107.0,2837.5 1109.3,2840.7C1111.5,2844.0 1113.4,2844.3 1115.6,2843.3C1117.7,2842.4 1120.0,2838.7 1122.2,2835.2C1124.4,2831.7 1126.9,2824.8 1128.9,2822.2C1130.9,2819.6 1132.4,2819.3 1134.1,2819.6C1135.7,2819.9 1137.3,2820.2 1138.9,2824.1C1140.5,2827.9 1142.0,2835.2 1143.7,2842.6C1145.4,2850.0 1146.9,2859.9 1148.9,2868.5C1150.9,2877.2 1153.2,2887.3 1155.6,2894.4C1157.9,2901.5 1159.9,2906.5 1163.0,2911.1C1166.0,2915.7 1171.6,2919.9 1174.1,2922.2C1176.5,2924.5 1175.3,2923.0 1177.8,2925.0C1180.2,2927.0 1186.4,2932.3 1188.9,2934.3C1191.4,2936.3 1189.5,2934.4 1192.6,2937.0C1195.7,2939.7 1202.5,2945.4 1207.4,2950.0C1212.3,2954.6 1217.6,2960.8 1222.2,2964.8C1226.9,2968.8 1230.9,2970.1 1235.2,2974.1C1239.5,2978.1 1244.1,2985.2 1248.1,2988.9C1252.2,2992.6 1255.6,2994.8 1259.3,2996.3C1263.0,2997.8 1266.7,2998.3 1270.4,2998.1C1274.1,2998.0 1277.8,2997.4 1281.5,2995.6C1285.2,2993.7 1289.2,2990.6 1292.6,2987.0C1296.0,2983.5 1299.1,2979.9 1301.9,2974.1C1304.6,2968.2 1307.1,2959.0 1309.3,2951.9C1311.4,2944.7 1312.7,2938.5 1314.8,2931.0C1317.0,2923.5 1319.4,2913.4 1322.2,2906.7C1325.0,2900.0 1328.4,2895.9 1331.5,2890.9C1334.5,2885.9 1337.9,2883.3 1340.6,2876.7C1343.4,2870.2 1345.4,2862.6 1348.0,2851.6C1350.7,2840.6 1353.5,2826.0 1356.6,2810.7C1359.6,2795.4 1363.3,2776.1 1366.6,2759.6C1369.8,2743.2 1372.7,2727.6 1375.8,2711.9C1378.9,2696.2 1382.6,2678.5 1385.1,2665.5C1387.6,2652.5 1388.3,2646.4 1390.7,2634.0C1393.2,2621.5 1396.8,2602.9 1399.9,2590.7C1403.0,2578.6 1406.1,2569.1 1409.1,2561.1C1412.2,2553.1 1415.6,2547.0 1418.4,2542.6C1421.2,2538.1 1423.8,2536.6 1425.8,2534.4C1427.8,2532.3 1429.5,2530.4 1430.3,2529.6L1431.4,2501.9L1432.1,2473.0C1433.2,2471.8 1436.4,2467.3 1438.8,2465.9C1441.1,2464.6 1443.7,2464.0 1446.2,2464.8C1448.7,2465.7 1451.1,2469.3 1453.6,2471.1C1456.1,2473.0 1458.7,2475.7 1461.0,2475.9C1463.3,2476.1 1465.3,2474.7 1467.7,2472.2C1470.0,2469.8 1472.2,2466.0 1475.1,2461.1C1478.0,2456.2 1481.6,2446.9 1485.1,2442.6C1488.6,2438.3 1492.5,2438.0 1496.2,2435.2C1499.9,2432.4 1503.9,2428.0 1507.3,2425.9C1510.7,2423.9 1513.5,2423.7 1516.6,2423.0C1519.6,2422.2 1523.0,2420.7 1525.8,2421.5C1528.6,2422.3 1530.6,2425.7 1533.2,2427.8C1535.9,2429.9 1539.0,2432.7 1541.7,2434.1C1544.5,2435.5 1547.3,2436.7 1549.9,2436.3C1552.5,2435.9 1554.5,2434.1 1557.3,2431.5C1560.1,2428.8 1563.2,2423.6 1566.6,2420.4C1570.0,2417.1 1574.0,2414.0 1577.7,2411.9C1581.4,2409.7 1584.8,2408.9 1588.8,2407.4C1592.8,2405.9 1597.4,2403.9 1601.7,2403.0C1606.1,2402.0 1610.7,2401.6 1614.7,2401.9C1618.7,2402.1 1622.1,2403.2 1625.8,2404.4C1629.5,2405.7 1633.2,2408.0 1636.9,2409.3C1640.6,2410.5 1644.0,2411.0 1648.0,2411.9C1652.0,2412.7 1656.4,2413.0 1661.0,2414.1C1665.6,2415.2 1670.9,2416.2 1675.8,2418.5C1680.8,2420.8 1685.7,2425.2 1690.6,2427.8C1695.6,2430.4 1700.2,2432.2 1705.4,2434.1C1710.7,2435.9 1718.7,2437.9 1722.1,2438.9C1725.5,2439.9 1725.4,2439.8 1726.0,2440.0" fill="none" stroke="#000" stroke-width="6.2" stroke-linejoin="round" stroke-linecap="butt" shape-rendering="crispEdges"/>
<path d="M301.4,458.5H441.1V939.6H301.4" fill="none" stroke="#ff0000" stroke-width="4.6" stroke-dasharray="19.6 13.17" shape-rendering="crispEdges"/>
<path d="M303.7,456.2V941.9" fill="none" stroke="#ff0000" stroke-width="4.6" stroke-dasharray="19.6 13.17" shape-rendering="crispEdges"/>
<line x1="362.2" y1="939.6" x2="349.5" y2="1015.0" stroke="#ff0000" stroke-width="6" shape-rendering="crispEdges"/>
<path d="M344.4,1045.6 L339.2,1007.2 L349.4,1016.0 L361.9,1011.0 Z" fill="#ff0000" shape-rendering="crispEdges"/>
<path d="M854.4,456.7H940.7V1058.5H854.4" fill="none" stroke="#ff0000" stroke-width="4.6" stroke-dasharray="19.6 13.17" shape-rendering="crispEdges"/>
<path d="M856.7,454.4V1060.8" fill="none" stroke="#ff0000" stroke-width="4.6" stroke-dasharray="19.6 13.17" shape-rendering="crispEdges"/>
<line x1="895.6" y1="1058.5" x2="884.0" y2="1115.9" stroke="#ff0000" stroke-width="6" shape-rendering="crispEdges"/>
<path d="M877.8,1146.3 L873.9,1107.8 L883.8,1116.9 L896.4,1112.3 Z" fill="#ff0000" shape-rendering="crispEdges"/>
<path d="M1070.7,516.7H1157.4V1119.3H1070.7" fill="none" stroke="#ff0000" stroke-width="4.6" stroke-dasharray="19.6 13.17" shape-rendering="crispEdges"/>
<path d="M1073.0,514.4V1121.6" fill="none" stroke="#ff0000" stroke-width="4.6" stroke-dasharray="19.6 13.17" shape-rendering="crispEdges"/>
<line x1="1117.8" y1="1119.3" x2="1106.8" y2="1178.8" stroke="#ff0000" stroke-width="6" shape-rendering="crispEdges"/>
<path d="M1101.1,1209.3 L1096.5,1170.8 L1106.6,1179.8 L1119.2,1175.0 Z" fill="#ff0000" shape-rendering="crispEdges"/>
<path d="M1532.7,367.8H1638.0V784.0H1532.7" fill="none" stroke="#ff0000" stroke-width="4.6" stroke-dasharray="19.6 13.17" shape-rendering="crispEdges"/>
<path d="M1535.0,365.5V786.3" fill="none" stroke="#ff0000" stroke-width="4.6" stroke-dasharray="19.6 13.17" shape-rendering="crispEdges"/>
<line x1="1583.2" y1="784.0" x2="1575.3" y2="845.3" stroke="#ff0000" stroke-width="6" shape-rendering="crispEdges"/>
<path d="M1571.4,876.0 L1564.7,837.8 L1575.2,846.2 L1587.5,840.8 Z" fill="#ff0000" shape-rendering="crispEdges"/>
<path d="M297.0,2101.9H425.9V2695.2H297.0" fill="none" stroke="#ff0000" stroke-width="4.6" stroke-dasharray="19.6 13.17" shape-rendering="crispEdges"/>
<path d="M299.3,2099.6V2697.5" fill="none" stroke="#ff0000" stroke-width="4.6" stroke-dasharray="19.6 13.17" shape-rendering="crispEdges"/>
<line x1="361.1" y1="2694.4" x2="336.5" y2="2768.7" stroke="#ff0000" stroke-width="6" shape-rendering="crispEdges"/>
<path d="M326.7,2798.1 L327.4,2759.4 L336.1,2769.6 L349.3,2766.6 Z" fill="#ff0000" shape-rendering="crispEdges"/>
<path d="M850.7,2173.0H938.1V2779.6H850.7" fill="none" stroke="#ff0000" stroke-width="4.6" stroke-dasharray="19.6 13.17" shape-rendering="crispEdges"/>
<path d="M853.0,2170.7V2781.9" fill="none" stroke="#ff0000" stroke-width="4.6" stroke-dasharray="19.6 13.17" shape-rendering="crispEdges"/>
<line x1="891.9" y1="2780.4" x2="880.1" y2="2849.1" stroke="#ff0000" stroke-width="6" shape-rendering="crispEdges"/>
<path d="M874.8,2879.6 L869.8,2841.2 L879.9,2850.0 L892.4,2845.1 Z" fill="#ff0000" shape-rendering="crispEdges"/>
<path d="M1069.9,2245.6H1156.3V2852.6H1069.9" fill="none" stroke="#ff0000" stroke-width="4.6" stroke-dasharray="19.6 13.17" shape-rendering="crispEdges"/>
<path d="M1072.2,2243.3V2854.9" fill="none" stroke="#ff0000" stroke-width="4.6" stroke-dasharray="19.6 13.17" shape-rendering="crispEdges"/>
<line x1="1113.0" y1="2853.7" x2="1101.9" y2="2922.4" stroke="#ff0000" stroke-width="6" shape-rendering="crispEdges"/>
<path d="M1097.0,2953.0 L1091.5,2914.6 L1101.8,2923.4 L1114.2,2918.3 Z" fill="#ff0000" shape-rendering="crispEdges"/>
<path d="M1548.7,2117.4H1647.3V2478.9H1548.7" fill="none" stroke="#ff0000" stroke-width="4.6" stroke-dasharray="19.6 13.17" shape-rendering="crispEdges"/>
<path d="M1551.0,2115.1V2481.2" fill="none" stroke="#ff0000" stroke-width="4.6" stroke-dasharray="19.6 13.17" shape-rendering="crispEdges"/>
<line x1="1599.9" y1="2479.6" x2="1582.8" y2="2553.1" stroke="#ff0000" stroke-width="6" shape-rendering="crispEdges"/>
<path d="M1575.8,2583.3 L1573.0,2544.7 L1582.6,2554.1 L1595.4,2549.9 Z" fill="#ff0000" shape-rendering="crispEdges"/>
</svg>
</body></html>
